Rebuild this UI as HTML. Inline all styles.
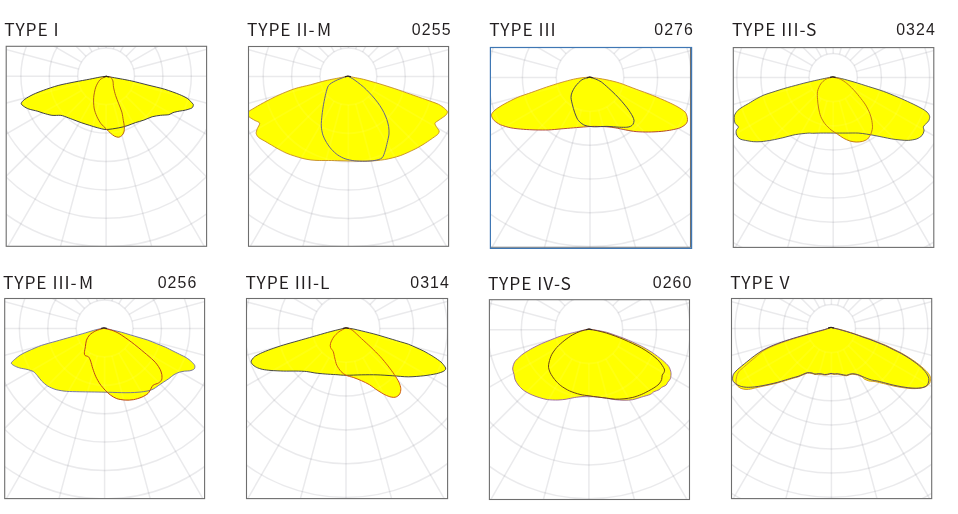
<!DOCTYPE html>
<html><head><meta charset="utf-8"><title>Light distribution types</title>
<style>
html,body{margin:0;padding:0;background:#fff;}
body{width:958px;height:514px;overflow:hidden;}
svg{display:block;will-change:transform;}
.t{font-family:"Noto Sans CJK SC","Liberation Sans",sans-serif;font-size:17.4px;fill:#231f20;letter-spacing:0.95px;}
.n{font-family:"Liberation Sans",sans-serif;font-size:15.9px;fill:#231f20;letter-spacing:1.1px;text-anchor:end;}
.g{fill:none;stroke:#80808a;stroke-width:1.5;stroke-opacity:0.165;}
</style></head><body>
<svg width="958" height="514" viewBox="0 0 958 514">
<rect width="958" height="514" fill="#fff"/>
<linearGradient id="g3" gradientUnits="userSpaceOnUse" x1="0" y1="78" x2="0" y2="132"><stop offset="0" stop-color="#c98a2c"/><stop offset="0.6" stop-color="#c47a2a"/><stop offset="1" stop-color="#a8322c"/></linearGradient>
<clipPath id="c0"><rect x="6.20" y="46.30" width="200.40" height="200.00"/></clipPath>
<g clip-path="url(#c0)">
<g class="g">
<circle cx="106.10" cy="76.30" r="28.40"/><circle cx="106.10" cy="76.30" r="56.80"/><circle cx="106.10" cy="76.30" r="85.20"/><circle cx="106.10" cy="76.30" r="113.60"/><circle cx="106.10" cy="76.30" r="142.00"/><circle cx="106.10" cy="76.30" r="170.40"/><circle cx="106.10" cy="76.30" r="198.80"/><circle cx="106.10" cy="76.30" r="227.20"/><circle cx="106.10" cy="76.30" r="255.60"/>
<path d="M134.50 76.30 L406.10 76.30M133.53 83.65 L395.88 153.95M130.70 90.50 L365.91 226.30M126.18 96.38 L318.23 288.43M120.30 100.90 L256.10 336.11M113.45 103.73 L183.75 366.08M106.10 104.70 L106.10 376.30M98.75 103.73 L28.45 366.08M91.90 100.90 L-43.90 336.11M86.02 96.38 L-106.03 288.43M81.50 90.50 L-153.71 226.30M78.67 83.65 L-183.68 153.95M77.70 76.30 L-193.90 76.30M78.67 68.95 L-183.68 -1.35M81.50 62.10 L-153.71 -73.70M86.02 56.22 L-106.03 -135.83M91.90 51.70 L-43.90 -183.51M98.75 48.87 L28.45 -213.48M106.10 47.90 L106.10 -223.70M113.45 48.87 L183.75 -213.48M120.30 51.70 L256.10 -183.51M126.18 56.22 L318.23 -135.83M130.70 62.10 L365.91 -73.70M133.53 68.95 L395.88 -1.35"/>
</g>
<clipPath id="s0"><path d="M106.21 76.28C108.96 76.77 111.05 77.10 114.56 77.75C118.07 78.39 126.58 79.85 131.26 80.88C135.94 81.90 143.29 83.88 147.96 85.05C152.64 86.22 160.28 87.91 164.66 89.23C169.05 90.54 176.06 93.13 179.28 94.45C182.49 95.76 185.73 97.31 187.63 98.62C189.53 99.94 192.06 102.88 192.85 103.84C193.64 104.81 193.41 104.93 193.27 105.51C193.12 106.10 192.89 107.37 191.80 108.02C190.72 108.66 187.29 109.67 185.54 110.10C183.79 110.54 181.03 110.80 179.28 111.15C177.52 111.50 174.48 112.11 173.01 112.61C171.55 113.11 170.59 114.32 168.84 114.70C167.09 115.08 162.83 115.03 160.49 115.32C158.15 115.62 154.48 116.11 152.14 116.78C149.80 117.46 146.13 119.31 143.79 120.13C141.45 120.94 137.77 121.84 135.44 122.63C133.10 123.42 129.42 125.03 127.09 125.76C124.75 126.49 121.66 127.32 118.73 127.85C115.81 128.38 109.13 129.52 106.21 129.52C103.29 129.52 100.20 128.43 97.86 127.85C95.52 127.27 91.85 126.08 89.51 125.34C87.17 124.61 83.49 123.45 81.16 122.63C78.82 121.81 75.14 120.38 72.81 119.50C70.47 118.62 66.21 116.95 64.46 116.37C62.70 115.78 62.03 115.47 60.28 115.32C58.53 115.18 54.27 115.62 51.93 115.32C49.59 115.03 45.62 113.82 43.58 113.24C41.53 112.65 39.36 111.73 37.32 111.15C35.27 110.56 30.86 109.73 28.96 109.06C27.06 108.39 24.83 107.14 23.75 106.35C22.66 105.56 21.09 104.42 21.24 103.42C21.39 102.43 23.12 100.51 24.79 99.25C26.46 97.99 30.51 95.70 33.14 94.45C35.77 93.19 40.07 91.53 43.58 90.27C47.09 89.01 53.81 86.64 58.19 85.47C62.58 84.30 70.51 82.80 74.89 81.92C79.28 81.04 86.00 79.88 89.51 79.21C93.01 78.53 97.61 77.53 99.95 77.12C102.28 76.71 104.14 76.56 106.21 76.28Z"/><path d="M106.21 76.28C104.14 77.46 101.41 78.31 99.95 79.83C98.48 81.35 96.65 84.66 95.77 87.14C94.89 89.62 93.92 94.66 93.68 97.58C93.45 100.50 93.66 105.39 94.10 108.02C94.54 110.65 95.85 114.18 96.81 116.37C97.78 118.56 99.67 121.92 100.99 123.67C102.30 125.43 104.89 127.58 106.21 128.89C107.52 130.21 109.22 132.05 110.38 133.07C111.55 134.09 113.39 135.62 114.56 136.20C115.73 136.78 117.71 137.33 118.73 137.24C119.76 137.16 121.14 136.30 121.87 135.57C122.60 134.84 123.60 133.25 123.95 132.03C124.30 130.80 124.46 128.41 124.37 126.81C124.28 125.20 123.68 122.59 123.33 120.54C122.98 118.50 122.51 114.53 121.87 112.19C121.22 109.85 119.61 106.18 118.73 103.84C117.86 101.50 116.33 97.83 115.60 95.49C114.87 93.15 113.90 89.19 113.52 87.14C113.14 85.09 113.33 82.28 112.89 80.88C112.45 79.47 111.32 77.76 110.38 77.12C109.45 76.48 107.59 76.56 106.21 76.28Z"/></clipPath>
<path d="M106.21 76.28C108.96 76.77 111.05 77.10 114.56 77.75C118.07 78.39 126.58 79.85 131.26 80.88C135.94 81.90 143.29 83.88 147.96 85.05C152.64 86.22 160.28 87.91 164.66 89.23C169.05 90.54 176.06 93.13 179.28 94.45C182.49 95.76 185.73 97.31 187.63 98.62C189.53 99.94 192.06 102.88 192.85 103.84C193.64 104.81 193.41 104.93 193.27 105.51C193.12 106.10 192.89 107.37 191.80 108.02C190.72 108.66 187.29 109.67 185.54 110.10C183.79 110.54 181.03 110.80 179.28 111.15C177.52 111.50 174.48 112.11 173.01 112.61C171.55 113.11 170.59 114.32 168.84 114.70C167.09 115.08 162.83 115.03 160.49 115.32C158.15 115.62 154.48 116.11 152.14 116.78C149.80 117.46 146.13 119.31 143.79 120.13C141.45 120.94 137.77 121.84 135.44 122.63C133.10 123.42 129.42 125.03 127.09 125.76C124.75 126.49 121.66 127.32 118.73 127.85C115.81 128.38 109.13 129.52 106.21 129.52C103.29 129.52 100.20 128.43 97.86 127.85C95.52 127.27 91.85 126.08 89.51 125.34C87.17 124.61 83.49 123.45 81.16 122.63C78.82 121.81 75.14 120.38 72.81 119.50C70.47 118.62 66.21 116.95 64.46 116.37C62.70 115.78 62.03 115.47 60.28 115.32C58.53 115.18 54.27 115.62 51.93 115.32C49.59 115.03 45.62 113.82 43.58 113.24C41.53 112.65 39.36 111.73 37.32 111.15C35.27 110.56 30.86 109.73 28.96 109.06C27.06 108.39 24.83 107.14 23.75 106.35C22.66 105.56 21.09 104.42 21.24 103.42C21.39 102.43 23.12 100.51 24.79 99.25C26.46 97.99 30.51 95.70 33.14 94.45C35.77 93.19 40.07 91.53 43.58 90.27C47.09 89.01 53.81 86.64 58.19 85.47C62.58 84.30 70.51 82.80 74.89 81.92C79.28 81.04 86.00 79.88 89.51 79.21C93.01 78.53 97.61 77.53 99.95 77.12C102.28 76.71 104.14 76.56 106.21 76.28Z" fill="#ffff00" stroke="none"/>
<path d="M106.21 76.28C104.14 77.46 101.41 78.31 99.95 79.83C98.48 81.35 96.65 84.66 95.77 87.14C94.89 89.62 93.92 94.66 93.68 97.58C93.45 100.50 93.66 105.39 94.10 108.02C94.54 110.65 95.85 114.18 96.81 116.37C97.78 118.56 99.67 121.92 100.99 123.67C102.30 125.43 104.89 127.58 106.21 128.89C107.52 130.21 109.22 132.05 110.38 133.07C111.55 134.09 113.39 135.62 114.56 136.20C115.73 136.78 117.71 137.33 118.73 137.24C119.76 137.16 121.14 136.30 121.87 135.57C122.60 134.84 123.60 133.25 123.95 132.03C124.30 130.80 124.46 128.41 124.37 126.81C124.28 125.20 123.68 122.59 123.33 120.54C122.98 118.50 122.51 114.53 121.87 112.19C121.22 109.85 119.61 106.18 118.73 103.84C117.86 101.50 116.33 97.83 115.60 95.49C114.87 93.15 113.90 89.19 113.52 87.14C113.14 85.09 113.33 82.28 112.89 80.88C112.45 79.47 111.32 77.76 110.38 77.12C109.45 76.48 107.59 76.56 106.21 76.28Z" fill="#ffff00" stroke="none"/>
<g clip-path="url(#s0)" fill="none" stroke="#ffffff" stroke-width="1.8" stroke-opacity="0.07"><circle cx="106.10" cy="76.30" r="28.40"/><circle cx="106.10" cy="76.30" r="56.80"/><circle cx="106.10" cy="76.30" r="85.20"/><circle cx="106.10" cy="76.30" r="113.60"/><circle cx="106.10" cy="76.30" r="142.00"/><path d="M134.50 76.30 L406.10 76.30M133.53 83.65 L395.88 153.95M130.70 90.50 L365.91 226.30M126.18 96.38 L318.23 288.43M120.30 100.90 L256.10 336.11M113.45 103.73 L183.75 366.08M106.10 104.70 L106.10 376.30M98.75 103.73 L28.45 366.08M91.90 100.90 L-43.90 336.11M86.02 96.38 L-106.03 288.43M81.50 90.50 L-153.71 226.30M78.67 83.65 L-183.68 153.95M77.70 76.30 L-193.90 76.30M78.67 68.95 L-183.68 -1.35M81.50 62.10 L-153.71 -73.70M86.02 56.22 L-106.03 -135.83M91.90 51.70 L-43.90 -183.51M98.75 48.87 L28.45 -213.48M106.10 47.90 L106.10 -223.70M113.45 48.87 L183.75 -213.48M120.30 51.70 L256.10 -183.51M126.18 56.22 L318.23 -135.83M130.70 62.10 L365.91 -73.70M133.53 68.95 L395.88 -1.35"/></g>
<path d="M106.21 76.28C108.96 76.77 111.05 77.10 114.56 77.75C118.07 78.39 126.58 79.85 131.26 80.88C135.94 81.90 143.29 83.88 147.96 85.05C152.64 86.22 160.28 87.91 164.66 89.23C169.05 90.54 176.06 93.13 179.28 94.45C182.49 95.76 185.73 97.31 187.63 98.62C189.53 99.94 192.06 102.88 192.85 103.84C193.64 104.81 193.41 104.93 193.27 105.51C193.12 106.10 192.89 107.37 191.80 108.02C190.72 108.66 187.29 109.67 185.54 110.10C183.79 110.54 181.03 110.80 179.28 111.15C177.52 111.50 174.48 112.11 173.01 112.61C171.55 113.11 170.59 114.32 168.84 114.70C167.09 115.08 162.83 115.03 160.49 115.32C158.15 115.62 154.48 116.11 152.14 116.78C149.80 117.46 146.13 119.31 143.79 120.13C141.45 120.94 137.77 121.84 135.44 122.63C133.10 123.42 129.42 125.03 127.09 125.76C124.75 126.49 121.66 127.32 118.73 127.85C115.81 128.38 109.13 129.52 106.21 129.52C103.29 129.52 100.20 128.43 97.86 127.85C95.52 127.27 91.85 126.08 89.51 125.34C87.17 124.61 83.49 123.45 81.16 122.63C78.82 121.81 75.14 120.38 72.81 119.50C70.47 118.62 66.21 116.95 64.46 116.37C62.70 115.78 62.03 115.47 60.28 115.32C58.53 115.18 54.27 115.62 51.93 115.32C49.59 115.03 45.62 113.82 43.58 113.24C41.53 112.65 39.36 111.73 37.32 111.15C35.27 110.56 30.86 109.73 28.96 109.06C27.06 108.39 24.83 107.14 23.75 106.35C22.66 105.56 21.09 104.42 21.24 103.42C21.39 102.43 23.12 100.51 24.79 99.25C26.46 97.99 30.51 95.70 33.14 94.45C35.77 93.19 40.07 91.53 43.58 90.27C47.09 89.01 53.81 86.64 58.19 85.47C62.58 84.30 70.51 82.80 74.89 81.92C79.28 81.04 86.00 79.88 89.51 79.21C93.01 78.53 97.61 77.53 99.95 77.12C102.28 76.71 104.14 76.56 106.21 76.28Z" fill="none" stroke="#2a2a3c" stroke-width="0.90" stroke-linejoin="round"/>
<path d="M106.21 76.28C104.14 77.46 101.41 78.31 99.95 79.83C98.48 81.35 96.65 84.66 95.77 87.14C94.89 89.62 93.92 94.66 93.68 97.58C93.45 100.50 93.66 105.39 94.10 108.02C94.54 110.65 95.85 114.18 96.81 116.37C97.78 118.56 99.67 121.92 100.99 123.67C102.30 125.43 104.89 127.58 106.21 128.89C107.52 130.21 109.22 132.05 110.38 133.07C111.55 134.09 113.39 135.62 114.56 136.20C115.73 136.78 117.71 137.33 118.73 137.24C119.76 137.16 121.14 136.30 121.87 135.57C122.60 134.84 123.60 133.25 123.95 132.03C124.30 130.80 124.46 128.41 124.37 126.81C124.28 125.20 123.68 122.59 123.33 120.54C122.98 118.50 122.51 114.53 121.87 112.19C121.22 109.85 119.61 106.18 118.73 103.84C117.86 101.50 116.33 97.83 115.60 95.49C114.87 93.15 113.90 89.19 113.52 87.14C113.14 85.09 113.33 82.28 112.89 80.88C112.45 79.47 111.32 77.76 110.38 77.12C109.45 76.48 107.59 76.56 106.21 76.28Z" fill="none" stroke="#b5601a" stroke-width="1.00" stroke-linejoin="round"/>
<path d="M103.81 76.78 Q106.21 75.78 108.61 76.78" fill="none" stroke="#2e2622" stroke-width="1.3" stroke-linecap="round"/>
</g>
<rect x="6.20" y="46.30" width="200.40" height="200.00" fill="none" stroke="#6e6e6e" stroke-width="1.1"/>
<text class="t" x="4.30" y="35.50">TYPE I</text>
<clipPath id="c1"><rect x="248.50" y="46.50" width="200.10" height="199.80"/></clipPath>
<g clip-path="url(#c1)">
<g class="g">
<circle cx="348.40" cy="76.50" r="28.40"/><circle cx="348.40" cy="76.50" r="56.80"/><circle cx="348.40" cy="76.50" r="85.20"/><circle cx="348.40" cy="76.50" r="113.60"/><circle cx="348.40" cy="76.50" r="142.00"/><circle cx="348.40" cy="76.50" r="170.40"/><circle cx="348.40" cy="76.50" r="198.80"/><circle cx="348.40" cy="76.50" r="227.20"/><circle cx="348.40" cy="76.50" r="255.60"/>
<path d="M376.80 76.50 L648.40 76.50M375.83 83.85 L638.18 154.15M373.00 90.70 L608.21 226.50M368.48 96.58 L560.53 288.63M362.60 101.10 L498.40 336.31M355.75 103.93 L426.05 366.28M348.40 104.90 L348.40 376.50M341.05 103.93 L270.75 366.28M334.20 101.10 L198.40 336.31M328.32 96.58 L136.27 288.63M323.80 90.70 L88.59 226.50M320.97 83.85 L58.62 154.15M320.00 76.50 L48.40 76.50M320.97 69.15 L58.62 -1.15M323.80 62.30 L88.59 -73.50M328.32 56.42 L136.27 -135.63M334.20 51.90 L198.40 -183.31M341.05 49.07 L270.75 -213.28M348.40 48.10 L348.40 -223.50M355.75 49.07 L426.05 -213.28M362.60 51.90 L498.40 -183.31M368.48 56.42 L560.53 -135.63M373.00 62.30 L608.21 -73.50M375.83 69.15 L638.18 -1.15"/>
</g>
<clipPath id="s1"><path d="M348.00 76.22C350.55 76.72 353.54 77.31 355.72 77.75C357.90 78.18 360.30 78.52 363.57 79.35C366.85 80.19 374.74 82.41 379.11 83.72C383.47 85.02 390.41 87.23 394.76 88.68C399.12 90.14 405.86 92.61 410.21 94.13C414.57 95.66 421.92 98.19 425.87 99.60C429.82 101.02 435.78 103.02 438.40 104.26C441.02 105.50 443.32 107.41 444.58 108.43C445.83 109.46 447.07 110.81 447.37 111.57C447.68 112.33 447.07 113.27 446.75 113.86C446.43 114.46 446.14 114.96 445.08 115.80C444.02 116.65 440.58 118.92 439.19 119.90C437.80 120.87 435.70 122.06 435.18 122.80C434.66 123.53 435.23 124.48 435.47 125.14C435.71 125.79 436.37 126.67 436.89 127.49C437.41 128.32 438.98 130.16 439.19 131.00C439.40 131.84 438.72 132.91 438.40 133.49C438.08 134.06 437.92 134.29 436.89 135.09C435.87 135.89 432.88 137.97 431.09 139.21C429.30 140.44 426.05 142.67 424.10 143.90C422.14 145.13 419.23 146.86 417.10 148.00C414.97 149.13 411.19 150.95 408.90 152.00C406.60 153.05 403.01 154.67 400.71 155.49C398.42 156.31 394.79 157.32 392.51 157.89C390.23 158.47 386.69 159.22 384.41 159.60C382.12 159.99 378.48 160.42 376.18 160.63C373.89 160.83 370.79 160.99 368.04 161.04C365.29 161.10 359.92 161.07 356.56 161.04C353.20 161.01 347.54 160.91 344.03 160.84C340.53 160.76 334.99 160.57 331.51 160.52C328.03 160.48 322.05 160.57 319.19 160.50C316.33 160.43 313.37 160.28 311.09 160.00C308.81 159.72 305.20 159.04 302.91 158.50C300.61 157.95 297.00 156.84 294.70 156.10C292.40 155.35 288.78 154.17 286.50 153.19C284.21 152.22 280.51 150.25 278.40 149.10C276.28 147.96 273.36 146.16 271.40 145.01C269.44 143.86 266.22 141.96 264.41 140.90C262.60 139.83 259.65 138.44 258.50 137.39C257.35 136.34 256.37 134.62 256.20 133.40C256.04 132.19 256.80 130.15 257.29 128.71C257.78 127.26 260.01 124.24 259.69 123.09C259.37 121.94 256.46 121.35 254.99 120.50C253.52 119.65 250.17 117.81 249.19 116.99C248.21 116.18 248.17 115.39 248.00 114.70C247.83 114.00 247.35 112.85 248.00 112.05C248.65 111.24 250.50 110.24 252.68 108.94C254.86 107.63 259.87 104.68 263.57 102.71C267.27 100.75 274.74 96.89 279.11 94.93C283.47 92.96 290.40 90.10 294.76 88.68C299.13 87.27 305.94 85.94 310.30 84.80C314.65 83.67 321.51 81.61 325.87 80.58C330.23 79.56 338.37 78.08 341.47 77.47C344.56 76.86 345.84 76.63 348.00 76.22Z"/><path d="M348.00 76.22C346.83 76.52 346.23 76.47 344.45 77.12C342.67 77.77 337.49 79.71 335.27 80.88C333.04 82.05 329.90 83.72 328.58 85.47C327.27 87.22 326.57 90.77 325.87 93.40C325.17 96.03 324.11 101.22 323.57 104.26C323.03 107.30 322.33 112.08 322.01 115.11C321.69 118.15 321.15 123.16 321.28 125.97C321.41 128.78 322.22 132.85 322.95 135.16C323.68 137.47 325.30 140.48 326.50 142.46C327.70 144.45 329.93 147.60 331.51 149.35C333.09 151.11 335.87 153.67 337.77 154.99C339.67 156.30 342.74 157.93 345.08 158.75C347.42 159.57 351.70 160.48 354.47 160.84C357.25 161.19 362.05 161.31 364.91 161.25C367.77 161.19 372.53 160.89 374.93 160.42C377.33 159.95 380.60 159.26 382.03 157.91C383.46 156.57 384.43 152.98 385.16 150.81C385.89 148.65 386.71 144.82 387.25 142.46C387.79 140.11 388.81 136.24 389.00 134.01C389.19 131.77 388.91 128.52 388.61 126.49C388.30 124.46 387.49 121.46 386.83 119.50C386.17 117.54 384.89 114.46 383.91 112.51C382.93 110.55 381.08 107.39 379.84 105.51C378.59 103.64 376.51 100.90 375.04 99.10C373.56 97.31 370.93 94.41 369.29 92.69C367.66 90.97 365.00 88.28 363.34 86.81C361.69 85.34 358.97 83.31 357.50 82.19C356.02 81.07 354.13 79.63 352.80 78.79C351.47 77.95 349.58 77.07 348.00 76.22Z"/></clipPath>
<path d="M348.00 76.22C350.55 76.72 353.54 77.31 355.72 77.75C357.90 78.18 360.30 78.52 363.57 79.35C366.85 80.19 374.74 82.41 379.11 83.72C383.47 85.02 390.41 87.23 394.76 88.68C399.12 90.14 405.86 92.61 410.21 94.13C414.57 95.66 421.92 98.19 425.87 99.60C429.82 101.02 435.78 103.02 438.40 104.26C441.02 105.50 443.32 107.41 444.58 108.43C445.83 109.46 447.07 110.81 447.37 111.57C447.68 112.33 447.07 113.27 446.75 113.86C446.43 114.46 446.14 114.96 445.08 115.80C444.02 116.65 440.58 118.92 439.19 119.90C437.80 120.87 435.70 122.06 435.18 122.80C434.66 123.53 435.23 124.48 435.47 125.14C435.71 125.79 436.37 126.67 436.89 127.49C437.41 128.32 438.98 130.16 439.19 131.00C439.40 131.84 438.72 132.91 438.40 133.49C438.08 134.06 437.92 134.29 436.89 135.09C435.87 135.89 432.88 137.97 431.09 139.21C429.30 140.44 426.05 142.67 424.10 143.90C422.14 145.13 419.23 146.86 417.10 148.00C414.97 149.13 411.19 150.95 408.90 152.00C406.60 153.05 403.01 154.67 400.71 155.49C398.42 156.31 394.79 157.32 392.51 157.89C390.23 158.47 386.69 159.22 384.41 159.60C382.12 159.99 378.48 160.42 376.18 160.63C373.89 160.83 370.79 160.99 368.04 161.04C365.29 161.10 359.92 161.07 356.56 161.04C353.20 161.01 347.54 160.91 344.03 160.84C340.53 160.76 334.99 160.57 331.51 160.52C328.03 160.48 322.05 160.57 319.19 160.50C316.33 160.43 313.37 160.28 311.09 160.00C308.81 159.72 305.20 159.04 302.91 158.50C300.61 157.95 297.00 156.84 294.70 156.10C292.40 155.35 288.78 154.17 286.50 153.19C284.21 152.22 280.51 150.25 278.40 149.10C276.28 147.96 273.36 146.16 271.40 145.01C269.44 143.86 266.22 141.96 264.41 140.90C262.60 139.83 259.65 138.44 258.50 137.39C257.35 136.34 256.37 134.62 256.20 133.40C256.04 132.19 256.80 130.15 257.29 128.71C257.78 127.26 260.01 124.24 259.69 123.09C259.37 121.94 256.46 121.35 254.99 120.50C253.52 119.65 250.17 117.81 249.19 116.99C248.21 116.18 248.17 115.39 248.00 114.70C247.83 114.00 247.35 112.85 248.00 112.05C248.65 111.24 250.50 110.24 252.68 108.94C254.86 107.63 259.87 104.68 263.57 102.71C267.27 100.75 274.74 96.89 279.11 94.93C283.47 92.96 290.40 90.10 294.76 88.68C299.13 87.27 305.94 85.94 310.30 84.80C314.65 83.67 321.51 81.61 325.87 80.58C330.23 79.56 338.37 78.08 341.47 77.47C344.56 76.86 345.84 76.63 348.00 76.22Z" fill="#ffff00" stroke="none"/>
<path d="M348.00 76.22C346.83 76.52 346.23 76.47 344.45 77.12C342.67 77.77 337.49 79.71 335.27 80.88C333.04 82.05 329.90 83.72 328.58 85.47C327.27 87.22 326.57 90.77 325.87 93.40C325.17 96.03 324.11 101.22 323.57 104.26C323.03 107.30 322.33 112.08 322.01 115.11C321.69 118.15 321.15 123.16 321.28 125.97C321.41 128.78 322.22 132.85 322.95 135.16C323.68 137.47 325.30 140.48 326.50 142.46C327.70 144.45 329.93 147.60 331.51 149.35C333.09 151.11 335.87 153.67 337.77 154.99C339.67 156.30 342.74 157.93 345.08 158.75C347.42 159.57 351.70 160.48 354.47 160.84C357.25 161.19 362.05 161.31 364.91 161.25C367.77 161.19 372.53 160.89 374.93 160.42C377.33 159.95 380.60 159.26 382.03 157.91C383.46 156.57 384.43 152.98 385.16 150.81C385.89 148.65 386.71 144.82 387.25 142.46C387.79 140.11 388.81 136.24 389.00 134.01C389.19 131.77 388.91 128.52 388.61 126.49C388.30 124.46 387.49 121.46 386.83 119.50C386.17 117.54 384.89 114.46 383.91 112.51C382.93 110.55 381.08 107.39 379.84 105.51C378.59 103.64 376.51 100.90 375.04 99.10C373.56 97.31 370.93 94.41 369.29 92.69C367.66 90.97 365.00 88.28 363.34 86.81C361.69 85.34 358.97 83.31 357.50 82.19C356.02 81.07 354.13 79.63 352.80 78.79C351.47 77.95 349.58 77.07 348.00 76.22Z" fill="#ffff00" stroke="none"/>
<g clip-path="url(#s1)" fill="none" stroke="#ffffff" stroke-width="1.8" stroke-opacity="0.07"><circle cx="348.40" cy="76.50" r="28.40"/><circle cx="348.40" cy="76.50" r="56.80"/><circle cx="348.40" cy="76.50" r="85.20"/><circle cx="348.40" cy="76.50" r="113.60"/><circle cx="348.40" cy="76.50" r="142.00"/><path d="M376.80 76.50 L648.40 76.50M375.83 83.85 L638.18 154.15M373.00 90.70 L608.21 226.50M368.48 96.58 L560.53 288.63M362.60 101.10 L498.40 336.31M355.75 103.93 L426.05 366.28M348.40 104.90 L348.40 376.50M341.05 103.93 L270.75 366.28M334.20 101.10 L198.40 336.31M328.32 96.58 L136.27 288.63M323.80 90.70 L88.59 226.50M320.97 83.85 L58.62 154.15M320.00 76.50 L48.40 76.50M320.97 69.15 L58.62 -1.15M323.80 62.30 L88.59 -73.50M328.32 56.42 L136.27 -135.63M334.20 51.90 L198.40 -183.31M341.05 49.07 L270.75 -213.28M348.40 48.10 L348.40 -223.50M355.75 49.07 L426.05 -213.28M362.60 51.90 L498.40 -183.31M368.48 56.42 L560.53 -135.63M373.00 62.30 L608.21 -73.50M375.83 69.15 L638.18 -1.15"/></g>
<path d="M348.00 76.22C350.55 76.72 353.54 77.31 355.72 77.75C357.90 78.18 360.30 78.52 363.57 79.35C366.85 80.19 374.74 82.41 379.11 83.72C383.47 85.02 390.41 87.23 394.76 88.68C399.12 90.14 405.86 92.61 410.21 94.13C414.57 95.66 421.92 98.19 425.87 99.60C429.82 101.02 435.78 103.02 438.40 104.26C441.02 105.50 443.32 107.41 444.58 108.43C445.83 109.46 447.07 110.81 447.37 111.57C447.68 112.33 447.07 113.27 446.75 113.86C446.43 114.46 446.14 114.96 445.08 115.80C444.02 116.65 440.58 118.92 439.19 119.90C437.80 120.87 435.70 122.06 435.18 122.80C434.66 123.53 435.23 124.48 435.47 125.14C435.71 125.79 436.37 126.67 436.89 127.49C437.41 128.32 438.98 130.16 439.19 131.00C439.40 131.84 438.72 132.91 438.40 133.49C438.08 134.06 437.92 134.29 436.89 135.09C435.87 135.89 432.88 137.97 431.09 139.21C429.30 140.44 426.05 142.67 424.10 143.90C422.14 145.13 419.23 146.86 417.10 148.00C414.97 149.13 411.19 150.95 408.90 152.00C406.60 153.05 403.01 154.67 400.71 155.49C398.42 156.31 394.79 157.32 392.51 157.89C390.23 158.47 386.69 159.22 384.41 159.60C382.12 159.99 378.48 160.42 376.18 160.63C373.89 160.83 370.79 160.99 368.04 161.04C365.29 161.10 359.92 161.07 356.56 161.04C353.20 161.01 347.54 160.91 344.03 160.84C340.53 160.76 334.99 160.57 331.51 160.52C328.03 160.48 322.05 160.57 319.19 160.50C316.33 160.43 313.37 160.28 311.09 160.00C308.81 159.72 305.20 159.04 302.91 158.50C300.61 157.95 297.00 156.84 294.70 156.10C292.40 155.35 288.78 154.17 286.50 153.19C284.21 152.22 280.51 150.25 278.40 149.10C276.28 147.96 273.36 146.16 271.40 145.01C269.44 143.86 266.22 141.96 264.41 140.90C262.60 139.83 259.65 138.44 258.50 137.39C257.35 136.34 256.37 134.62 256.20 133.40C256.04 132.19 256.80 130.15 257.29 128.71C257.78 127.26 260.01 124.24 259.69 123.09C259.37 121.94 256.46 121.35 254.99 120.50C253.52 119.65 250.17 117.81 249.19 116.99C248.21 116.18 248.17 115.39 248.00 114.70C247.83 114.00 247.35 112.85 248.00 112.05C248.65 111.24 250.50 110.24 252.68 108.94C254.86 107.63 259.87 104.68 263.57 102.71C267.27 100.75 274.74 96.89 279.11 94.93C283.47 92.96 290.40 90.10 294.76 88.68C299.13 87.27 305.94 85.94 310.30 84.80C314.65 83.67 321.51 81.61 325.87 80.58C330.23 79.56 338.37 78.08 341.47 77.47C344.56 76.86 345.84 76.63 348.00 76.22Z" fill="none" stroke="#c48a22" stroke-width="0.90" stroke-linejoin="round"/>
<path d="M348.00 76.22C346.83 76.52 346.23 76.47 344.45 77.12C342.67 77.77 337.49 79.71 335.27 80.88C333.04 82.05 329.90 83.72 328.58 85.47C327.27 87.22 326.57 90.77 325.87 93.40C325.17 96.03 324.11 101.22 323.57 104.26C323.03 107.30 322.33 112.08 322.01 115.11C321.69 118.15 321.15 123.16 321.28 125.97C321.41 128.78 322.22 132.85 322.95 135.16C323.68 137.47 325.30 140.48 326.50 142.46C327.70 144.45 329.93 147.60 331.51 149.35C333.09 151.11 335.87 153.67 337.77 154.99C339.67 156.30 342.74 157.93 345.08 158.75C347.42 159.57 351.70 160.48 354.47 160.84C357.25 161.19 362.05 161.31 364.91 161.25C367.77 161.19 372.53 160.89 374.93 160.42C377.33 159.95 380.60 159.26 382.03 157.91C383.46 156.57 384.43 152.98 385.16 150.81C385.89 148.65 386.71 144.82 387.25 142.46C387.79 140.11 388.81 136.24 389.00 134.01C389.19 131.77 388.91 128.52 388.61 126.49C388.30 124.46 387.49 121.46 386.83 119.50C386.17 117.54 384.89 114.46 383.91 112.51C382.93 110.55 381.08 107.39 379.84 105.51C378.59 103.64 376.51 100.90 375.04 99.10C373.56 97.31 370.93 94.41 369.29 92.69C367.66 90.97 365.00 88.28 363.34 86.81C361.69 85.34 358.97 83.31 357.50 82.19C356.02 81.07 354.13 79.63 352.80 78.79C351.47 77.95 349.58 77.07 348.00 76.22Z" fill="none" stroke="#66628a" stroke-width="1.00" stroke-linejoin="round"/>
<path d="M345.60 76.72 Q348.00 75.72 350.40 76.72" fill="none" stroke="#2e2622" stroke-width="1.3" stroke-linecap="round"/>
</g>
<rect x="248.50" y="46.50" width="200.10" height="199.80" fill="none" stroke="#6e6e6e" stroke-width="1.1"/>
<text class="t" x="247.10" y="35.50">TYPE II-<tspan dx="1.5">M</tspan></text>
<text class="n" x="451.60" y="34.70">0255</text>
<clipPath id="c2"><rect x="490.50" y="47.60" width="200.50" height="200.40"/></clipPath>
<g clip-path="url(#c2)">
<g class="g">
<circle cx="590.00" cy="77.60" r="33.80"/><circle cx="590.00" cy="77.60" r="67.60"/><circle cx="590.00" cy="77.60" r="101.40"/><circle cx="590.00" cy="77.60" r="135.20"/><circle cx="590.00" cy="77.60" r="169.00"/><circle cx="590.00" cy="77.60" r="202.80"/><circle cx="590.00" cy="77.60" r="236.60"/>
<path d="M623.80 77.60 L890.00 77.60M622.65 86.35 L879.78 155.25M619.27 94.50 L849.81 227.60M613.90 101.50 L802.13 289.73M606.90 106.87 L740.00 337.41M598.75 110.25 L667.65 367.38M590.00 111.40 L590.00 377.60M581.25 110.25 L512.35 367.38M573.10 106.87 L440.00 337.41M566.10 101.50 L377.87 289.73M560.73 94.50 L330.19 227.60M557.35 86.35 L300.22 155.25M556.20 77.60 L290.00 77.60M557.35 68.85 L300.22 -0.05M560.73 60.70 L330.19 -72.40M566.10 53.70 L377.87 -134.53M573.10 48.33 L440.00 -182.21M581.25 44.95 L512.35 -212.18M590.00 43.80 L590.00 -222.40M598.75 44.95 L667.65 -212.18M606.90 48.33 L740.00 -182.21M613.90 53.70 L802.13 -134.53M619.27 60.70 L849.81 -72.40M622.65 68.85 L879.78 -0.05"/>
</g>
<clipPath id="s2"><path d="M589.79 77.12C592.68 77.53 596.16 77.99 598.56 78.37C600.96 78.75 603.99 79.19 606.91 79.83C609.83 80.48 615.34 81.65 619.44 82.96C623.53 84.28 631.46 87.47 636.14 89.23C640.81 90.98 648.46 93.74 652.84 95.49C657.22 97.24 663.95 100.15 667.45 101.75C670.96 103.36 675.41 105.51 677.89 106.97C680.38 108.43 683.88 110.73 685.20 112.19C686.51 113.65 686.99 116.10 687.29 117.41C687.58 118.73 687.58 120.56 687.29 121.59C686.99 122.61 686.22 123.84 685.20 124.72C684.18 125.59 681.88 127.12 679.98 127.85C678.08 128.58 674.26 129.44 671.63 129.94C669.00 130.43 664.41 131.11 661.19 131.40C657.97 131.69 652.17 132.00 648.66 132.03C645.16 132.05 639.35 131.90 636.14 131.61C632.92 131.32 628.62 130.46 625.70 129.94C622.78 129.41 617.89 128.29 615.26 127.85C612.63 127.41 609.83 127.01 606.91 126.81C603.99 126.60 597.31 126.39 594.38 126.39C591.46 126.39 588.96 126.60 586.03 126.81C583.11 127.01 577.01 127.56 573.51 127.85C570.00 128.14 564.49 128.60 560.98 128.89C557.47 129.19 551.96 129.79 548.46 129.94C544.95 130.08 539.44 130.03 535.93 129.94C532.42 129.85 526.91 129.60 523.40 129.31C519.90 129.02 514.09 128.49 510.88 127.85C507.66 127.21 502.78 125.74 500.44 124.72C498.10 123.70 495.40 121.71 494.18 120.54C492.95 119.37 491.96 117.39 491.67 116.37C491.38 115.34 491.44 114.26 492.09 113.24C492.73 112.21 494.51 110.38 496.26 109.06C498.02 107.75 501.69 105.45 504.61 103.84C507.54 102.23 513.34 99.19 517.14 97.58C520.94 95.97 527.66 93.82 531.75 92.36C535.85 90.90 542.28 88.51 546.37 87.14C550.46 85.77 557.18 83.66 560.98 82.55C564.78 81.44 570.58 79.88 573.51 79.21C576.43 78.53 579.58 78.04 581.86 77.75C584.14 77.45 587.17 77.33 589.79 77.12Z"/><path d="M589.79 77.12C587.17 78.01 583.85 78.58 581.86 79.83C579.87 81.09 576.97 84.34 575.59 86.10C574.22 87.85 572.69 90.75 572.05 92.36C571.40 93.97 570.94 95.82 571.00 97.58C571.06 99.33 571.97 102.84 572.46 104.89C572.96 106.93 573.82 110.15 574.55 112.19C575.28 114.24 576.66 117.89 577.68 119.50C578.71 121.11 580.69 122.80 581.86 123.67C583.03 124.55 584.28 125.32 586.03 125.76C587.79 126.20 591.46 126.72 594.38 126.81C597.31 126.89 603.40 126.33 606.91 126.39C610.42 126.45 616.66 127.11 619.44 127.22C622.21 127.34 625.19 127.34 626.74 127.22C628.29 127.11 629.62 126.80 630.50 126.39C631.38 125.98 632.51 125.12 633.01 124.30C633.50 123.48 634.14 121.71 634.05 120.54C633.96 119.37 633.23 117.56 632.38 115.95C631.53 114.34 629.49 111.11 628.00 109.06C626.51 107.01 623.52 103.38 621.73 101.34C619.95 99.29 617.13 96.32 615.26 94.45C613.39 92.58 610.33 89.73 608.37 87.97C606.41 86.22 603.09 83.18 601.27 81.92C599.46 80.66 597.04 79.67 595.43 79.00C593.82 78.33 591.65 77.74 589.79 77.12Z"/></clipPath>
<path d="M589.79 77.12C592.68 77.53 596.16 77.99 598.56 78.37C600.96 78.75 603.99 79.19 606.91 79.83C609.83 80.48 615.34 81.65 619.44 82.96C623.53 84.28 631.46 87.47 636.14 89.23C640.81 90.98 648.46 93.74 652.84 95.49C657.22 97.24 663.95 100.15 667.45 101.75C670.96 103.36 675.41 105.51 677.89 106.97C680.38 108.43 683.88 110.73 685.20 112.19C686.51 113.65 686.99 116.10 687.29 117.41C687.58 118.73 687.58 120.56 687.29 121.59C686.99 122.61 686.22 123.84 685.20 124.72C684.18 125.59 681.88 127.12 679.98 127.85C678.08 128.58 674.26 129.44 671.63 129.94C669.00 130.43 664.41 131.11 661.19 131.40C657.97 131.69 652.17 132.00 648.66 132.03C645.16 132.05 639.35 131.90 636.14 131.61C632.92 131.32 628.62 130.46 625.70 129.94C622.78 129.41 617.89 128.29 615.26 127.85C612.63 127.41 609.83 127.01 606.91 126.81C603.99 126.60 597.31 126.39 594.38 126.39C591.46 126.39 588.96 126.60 586.03 126.81C583.11 127.01 577.01 127.56 573.51 127.85C570.00 128.14 564.49 128.60 560.98 128.89C557.47 129.19 551.96 129.79 548.46 129.94C544.95 130.08 539.44 130.03 535.93 129.94C532.42 129.85 526.91 129.60 523.40 129.31C519.90 129.02 514.09 128.49 510.88 127.85C507.66 127.21 502.78 125.74 500.44 124.72C498.10 123.70 495.40 121.71 494.18 120.54C492.95 119.37 491.96 117.39 491.67 116.37C491.38 115.34 491.44 114.26 492.09 113.24C492.73 112.21 494.51 110.38 496.26 109.06C498.02 107.75 501.69 105.45 504.61 103.84C507.54 102.23 513.34 99.19 517.14 97.58C520.94 95.97 527.66 93.82 531.75 92.36C535.85 90.90 542.28 88.51 546.37 87.14C550.46 85.77 557.18 83.66 560.98 82.55C564.78 81.44 570.58 79.88 573.51 79.21C576.43 78.53 579.58 78.04 581.86 77.75C584.14 77.45 587.17 77.33 589.79 77.12Z" fill="#ffff00" stroke="none"/>
<path d="M589.79 77.12C587.17 78.01 583.85 78.58 581.86 79.83C579.87 81.09 576.97 84.34 575.59 86.10C574.22 87.85 572.69 90.75 572.05 92.36C571.40 93.97 570.94 95.82 571.00 97.58C571.06 99.33 571.97 102.84 572.46 104.89C572.96 106.93 573.82 110.15 574.55 112.19C575.28 114.24 576.66 117.89 577.68 119.50C578.71 121.11 580.69 122.80 581.86 123.67C583.03 124.55 584.28 125.32 586.03 125.76C587.79 126.20 591.46 126.72 594.38 126.81C597.31 126.89 603.40 126.33 606.91 126.39C610.42 126.45 616.66 127.11 619.44 127.22C622.21 127.34 625.19 127.34 626.74 127.22C628.29 127.11 629.62 126.80 630.50 126.39C631.38 125.98 632.51 125.12 633.01 124.30C633.50 123.48 634.14 121.71 634.05 120.54C633.96 119.37 633.23 117.56 632.38 115.95C631.53 114.34 629.49 111.11 628.00 109.06C626.51 107.01 623.52 103.38 621.73 101.34C619.95 99.29 617.13 96.32 615.26 94.45C613.39 92.58 610.33 89.73 608.37 87.97C606.41 86.22 603.09 83.18 601.27 81.92C599.46 80.66 597.04 79.67 595.43 79.00C593.82 78.33 591.65 77.74 589.79 77.12Z" fill="#ffff00" stroke="none"/>
<g clip-path="url(#s2)" fill="none" stroke="#ffffff" stroke-width="1.8" stroke-opacity="0.07"><circle cx="590.00" cy="77.60" r="33.80"/><circle cx="590.00" cy="77.60" r="67.60"/><circle cx="590.00" cy="77.60" r="101.40"/><circle cx="590.00" cy="77.60" r="135.20"/><path d="M623.80 77.60 L890.00 77.60M622.65 86.35 L879.78 155.25M619.27 94.50 L849.81 227.60M613.90 101.50 L802.13 289.73M606.90 106.87 L740.00 337.41M598.75 110.25 L667.65 367.38M590.00 111.40 L590.00 377.60M581.25 110.25 L512.35 367.38M573.10 106.87 L440.00 337.41M566.10 101.50 L377.87 289.73M560.73 94.50 L330.19 227.60M557.35 86.35 L300.22 155.25M556.20 77.60 L290.00 77.60M557.35 68.85 L300.22 -0.05M560.73 60.70 L330.19 -72.40M566.10 53.70 L377.87 -134.53M573.10 48.33 L440.00 -182.21M581.25 44.95 L512.35 -212.18M590.00 43.80 L590.00 -222.40M598.75 44.95 L667.65 -212.18M606.90 48.33 L740.00 -182.21M613.90 53.70 L802.13 -134.53M619.27 60.70 L849.81 -72.40M622.65 68.85 L879.78 -0.05"/></g>
<path d="M589.79 77.12C592.68 77.53 596.16 77.99 598.56 78.37C600.96 78.75 603.99 79.19 606.91 79.83C609.83 80.48 615.34 81.65 619.44 82.96C623.53 84.28 631.46 87.47 636.14 89.23C640.81 90.98 648.46 93.74 652.84 95.49C657.22 97.24 663.95 100.15 667.45 101.75C670.96 103.36 675.41 105.51 677.89 106.97C680.38 108.43 683.88 110.73 685.20 112.19C686.51 113.65 686.99 116.10 687.29 117.41C687.58 118.73 687.58 120.56 687.29 121.59C686.99 122.61 686.22 123.84 685.20 124.72C684.18 125.59 681.88 127.12 679.98 127.85C678.08 128.58 674.26 129.44 671.63 129.94C669.00 130.43 664.41 131.11 661.19 131.40C657.97 131.69 652.17 132.00 648.66 132.03C645.16 132.05 639.35 131.90 636.14 131.61C632.92 131.32 628.62 130.46 625.70 129.94C622.78 129.41 617.89 128.29 615.26 127.85C612.63 127.41 609.83 127.01 606.91 126.81C603.99 126.60 597.31 126.39 594.38 126.39C591.46 126.39 588.96 126.60 586.03 126.81C583.11 127.01 577.01 127.56 573.51 127.85C570.00 128.14 564.49 128.60 560.98 128.89C557.47 129.19 551.96 129.79 548.46 129.94C544.95 130.08 539.44 130.03 535.93 129.94C532.42 129.85 526.91 129.60 523.40 129.31C519.90 129.02 514.09 128.49 510.88 127.85C507.66 127.21 502.78 125.74 500.44 124.72C498.10 123.70 495.40 121.71 494.18 120.54C492.95 119.37 491.96 117.39 491.67 116.37C491.38 115.34 491.44 114.26 492.09 113.24C492.73 112.21 494.51 110.38 496.26 109.06C498.02 107.75 501.69 105.45 504.61 103.84C507.54 102.23 513.34 99.19 517.14 97.58C520.94 95.97 527.66 93.82 531.75 92.36C535.85 90.90 542.28 88.51 546.37 87.14C550.46 85.77 557.18 83.66 560.98 82.55C564.78 81.44 570.58 79.88 573.51 79.21C576.43 78.53 579.58 78.04 581.86 77.75C584.14 77.45 587.17 77.33 589.79 77.12Z" fill="none" stroke="url(#g3)" stroke-width="0.90" stroke-linejoin="round"/>
<path d="M589.79 77.12C587.17 78.01 583.85 78.58 581.86 79.83C579.87 81.09 576.97 84.34 575.59 86.10C574.22 87.85 572.69 90.75 572.05 92.36C571.40 93.97 570.94 95.82 571.00 97.58C571.06 99.33 571.97 102.84 572.46 104.89C572.96 106.93 573.82 110.15 574.55 112.19C575.28 114.24 576.66 117.89 577.68 119.50C578.71 121.11 580.69 122.80 581.86 123.67C583.03 124.55 584.28 125.32 586.03 125.76C587.79 126.20 591.46 126.72 594.38 126.81C597.31 126.89 603.40 126.33 606.91 126.39C610.42 126.45 616.66 127.11 619.44 127.22C622.21 127.34 625.19 127.34 626.74 127.22C628.29 127.11 629.62 126.80 630.50 126.39C631.38 125.98 632.51 125.12 633.01 124.30C633.50 123.48 634.14 121.71 634.05 120.54C633.96 119.37 633.23 117.56 632.38 115.95C631.53 114.34 629.49 111.11 628.00 109.06C626.51 107.01 623.52 103.38 621.73 101.34C619.95 99.29 617.13 96.32 615.26 94.45C613.39 92.58 610.33 89.73 608.37 87.97C606.41 86.22 603.09 83.18 601.27 81.92C599.46 80.66 597.04 79.67 595.43 79.00C593.82 78.33 591.65 77.74 589.79 77.12Z" fill="none" stroke="#4a4458" stroke-width="1.00" stroke-linejoin="round"/>
<path d="M587.39 77.62 Q589.79 76.62 592.19 77.62" fill="none" stroke="#2e2622" stroke-width="1.3" stroke-linecap="round"/>
</g>
<path d="M690.50 47.60 V247.30 H490.50" fill="none" stroke="#727272" stroke-width="1.1"/>
<rect x="490.40" y="47.50" width="201.20" height="200.90" fill="none" stroke="#3f77b4" stroke-width="1.2"/>
<text class="t" x="489.20" y="35.50">TYPE III</text>
<text class="n" x="694.00" y="34.70">0276</text>
<clipPath id="c3"><rect x="733.30" y="47.60" width="200.50" height="199.80"/></clipPath>
<g clip-path="url(#c3)">
<g class="g">
<circle cx="833.20" cy="77.60" r="24.10"/><circle cx="833.20" cy="77.60" r="48.20"/><circle cx="833.20" cy="77.60" r="72.30"/><circle cx="833.20" cy="77.60" r="96.40"/><circle cx="833.20" cy="77.60" r="120.50"/><circle cx="833.20" cy="77.60" r="144.60"/><circle cx="833.20" cy="77.60" r="168.70"/><circle cx="833.20" cy="77.60" r="192.80"/><circle cx="833.20" cy="77.60" r="216.90"/><circle cx="833.20" cy="77.60" r="241.00"/>
<path d="M857.30 77.60 L1133.20 77.60M856.48 83.84 L1122.98 155.25M854.07 89.65 L1093.01 227.60M850.24 94.64 L1045.33 289.73M845.25 98.47 L983.20 337.41M839.44 100.88 L910.85 367.38M833.20 101.70 L833.20 377.60M826.96 100.88 L755.55 367.38M821.15 98.47 L683.20 337.41M816.16 94.64 L621.07 289.73M812.33 89.65 L573.39 227.60M809.92 83.84 L543.42 155.25M809.10 77.60 L533.20 77.60M809.92 71.36 L543.42 -0.05M812.33 65.55 L573.39 -72.40M816.16 60.56 L621.07 -134.53M821.15 56.73 L683.20 -182.21M826.96 54.32 L755.55 -212.18M833.20 53.50 L833.20 -222.40M839.44 54.32 L910.85 -212.18M845.25 56.73 L983.20 -182.21M850.24 60.56 L1045.33 -134.53M854.07 65.55 L1093.01 -72.40M856.48 71.36 L1122.98 -0.05"/>
</g>
<clipPath id="s3"><path d="M832.79 76.81C835.68 77.39 838.58 77.85 841.56 78.58C844.54 79.31 850.29 80.90 854.09 82.03C857.89 83.15 864.61 85.32 868.70 86.62C872.79 87.92 879.22 89.84 883.31 91.32C887.41 92.79 894.13 95.55 897.93 97.16C901.73 98.77 907.24 101.28 910.45 102.80C913.67 104.32 918.55 106.70 920.89 108.02C923.23 109.33 925.93 111.02 927.15 112.19C928.38 113.36 929.43 115.20 929.66 116.37C929.89 117.54 929.32 119.52 928.82 120.54C928.33 121.57 926.87 122.80 926.11 123.67C925.35 124.55 923.69 125.78 923.40 126.81C923.10 127.83 924.23 129.75 924.02 130.98C923.82 132.21 922.96 134.46 921.94 135.57C920.91 136.68 918.62 138.24 916.72 138.91C914.82 139.59 910.70 140.23 908.37 140.38C906.03 140.52 902.35 140.16 900.01 139.96C897.68 139.75 894.00 139.29 891.66 138.91C889.33 138.53 885.65 137.71 883.31 137.24C880.97 136.78 877.30 136.01 874.96 135.57C872.62 135.14 868.95 134.46 866.61 134.11C864.27 133.76 861.18 133.22 858.26 133.07C855.34 132.92 849.24 133.07 845.73 133.07C842.23 133.07 836.72 133.07 833.21 133.07C829.70 133.07 823.61 133.04 820.68 133.07C817.76 133.10 814.14 133.26 812.33 133.28C810.52 133.29 810.12 132.98 807.74 133.17C805.35 133.36 798.78 133.99 795.30 134.63C791.81 135.27 786.12 136.98 782.85 137.75C779.58 138.51 774.99 139.54 771.94 140.08C768.88 140.63 763.65 141.43 761.04 141.65C758.42 141.87 755.43 141.82 753.25 141.65C751.07 141.47 747.21 140.72 745.46 140.40C743.72 140.07 741.88 139.79 740.79 139.31C739.70 138.83 738.33 137.84 737.68 136.97C737.02 136.10 736.29 134.07 736.11 133.09C735.94 132.11 736.10 130.83 736.42 129.96C736.75 129.08 738.60 127.72 738.45 126.85C738.30 125.98 735.93 124.72 735.34 123.74C734.75 122.76 734.36 121.05 734.25 119.85C734.14 118.66 734.09 116.49 734.57 115.18C735.05 113.87 736.59 111.64 737.68 110.50C738.77 109.37 740.83 108.06 742.35 107.08C743.88 106.10 746.61 104.64 748.57 103.49C750.54 102.33 754.18 100.01 756.36 98.81C758.54 97.61 761.97 95.83 764.15 94.93C766.33 94.02 769.75 93.07 771.94 92.36C774.12 91.65 777.54 90.53 779.72 89.85C781.90 89.18 785.33 88.17 787.51 87.56C789.69 86.94 793.12 86.05 795.30 85.47C797.48 84.89 800.90 83.94 803.08 83.38C805.26 82.83 808.69 82.01 810.87 81.50C813.05 80.99 816.50 80.21 818.68 79.73C820.86 79.25 824.49 78.47 826.47 78.06C828.44 77.65 830.70 77.22 832.79 76.81Z"/><path d="M832.79 77.12C830.52 77.81 827.60 78.24 825.90 79.21C824.21 80.17 821.85 82.31 820.68 84.01C819.51 85.70 817.99 89.12 817.55 91.32C817.11 93.51 817.41 97.33 817.55 99.67C817.70 102.00 818.16 105.68 818.59 108.02C819.03 110.35 819.81 114.18 820.68 116.37C821.56 118.56 823.40 121.77 824.86 123.67C826.32 125.57 829.37 128.48 831.12 129.94C832.87 131.40 835.63 132.94 837.38 134.11C839.14 135.28 841.89 137.32 843.65 138.29C845.40 139.25 848.16 140.48 849.91 141.00C851.66 141.53 854.42 141.99 856.17 142.05C857.93 142.10 860.83 141.86 862.44 141.42C864.04 140.98 866.49 139.94 867.66 138.91C868.82 137.89 870.11 135.66 870.79 134.11C871.46 132.56 872.31 129.75 872.46 127.85C872.60 125.95 872.21 122.59 871.83 120.54C871.45 118.50 870.62 115.43 869.74 113.24C868.87 111.04 867.03 107.22 865.57 104.89C864.11 102.55 861.06 98.73 859.30 96.53C857.55 94.34 854.80 91.07 853.04 89.23C851.29 87.39 848.53 84.78 846.78 83.38C845.03 81.98 842.47 80.08 840.52 79.21C838.56 78.33 835.34 77.81 832.79 77.12Z"/></clipPath>
<path d="M832.79 76.81C835.68 77.39 838.58 77.85 841.56 78.58C844.54 79.31 850.29 80.90 854.09 82.03C857.89 83.15 864.61 85.32 868.70 86.62C872.79 87.92 879.22 89.84 883.31 91.32C887.41 92.79 894.13 95.55 897.93 97.16C901.73 98.77 907.24 101.28 910.45 102.80C913.67 104.32 918.55 106.70 920.89 108.02C923.23 109.33 925.93 111.02 927.15 112.19C928.38 113.36 929.43 115.20 929.66 116.37C929.89 117.54 929.32 119.52 928.82 120.54C928.33 121.57 926.87 122.80 926.11 123.67C925.35 124.55 923.69 125.78 923.40 126.81C923.10 127.83 924.23 129.75 924.02 130.98C923.82 132.21 922.96 134.46 921.94 135.57C920.91 136.68 918.62 138.24 916.72 138.91C914.82 139.59 910.70 140.23 908.37 140.38C906.03 140.52 902.35 140.16 900.01 139.96C897.68 139.75 894.00 139.29 891.66 138.91C889.33 138.53 885.65 137.71 883.31 137.24C880.97 136.78 877.30 136.01 874.96 135.57C872.62 135.14 868.95 134.46 866.61 134.11C864.27 133.76 861.18 133.22 858.26 133.07C855.34 132.92 849.24 133.07 845.73 133.07C842.23 133.07 836.72 133.07 833.21 133.07C829.70 133.07 823.61 133.04 820.68 133.07C817.76 133.10 814.14 133.26 812.33 133.28C810.52 133.29 810.12 132.98 807.74 133.17C805.35 133.36 798.78 133.99 795.30 134.63C791.81 135.27 786.12 136.98 782.85 137.75C779.58 138.51 774.99 139.54 771.94 140.08C768.88 140.63 763.65 141.43 761.04 141.65C758.42 141.87 755.43 141.82 753.25 141.65C751.07 141.47 747.21 140.72 745.46 140.40C743.72 140.07 741.88 139.79 740.79 139.31C739.70 138.83 738.33 137.84 737.68 136.97C737.02 136.10 736.29 134.07 736.11 133.09C735.94 132.11 736.10 130.83 736.42 129.96C736.75 129.08 738.60 127.72 738.45 126.85C738.30 125.98 735.93 124.72 735.34 123.74C734.75 122.76 734.36 121.05 734.25 119.85C734.14 118.66 734.09 116.49 734.57 115.18C735.05 113.87 736.59 111.64 737.68 110.50C738.77 109.37 740.83 108.06 742.35 107.08C743.88 106.10 746.61 104.64 748.57 103.49C750.54 102.33 754.18 100.01 756.36 98.81C758.54 97.61 761.97 95.83 764.15 94.93C766.33 94.02 769.75 93.07 771.94 92.36C774.12 91.65 777.54 90.53 779.72 89.85C781.90 89.18 785.33 88.17 787.51 87.56C789.69 86.94 793.12 86.05 795.30 85.47C797.48 84.89 800.90 83.94 803.08 83.38C805.26 82.83 808.69 82.01 810.87 81.50C813.05 80.99 816.50 80.21 818.68 79.73C820.86 79.25 824.49 78.47 826.47 78.06C828.44 77.65 830.70 77.22 832.79 76.81Z" fill="#ffff00" stroke="none"/>
<path d="M832.79 77.12C830.52 77.81 827.60 78.24 825.90 79.21C824.21 80.17 821.85 82.31 820.68 84.01C819.51 85.70 817.99 89.12 817.55 91.32C817.11 93.51 817.41 97.33 817.55 99.67C817.70 102.00 818.16 105.68 818.59 108.02C819.03 110.35 819.81 114.18 820.68 116.37C821.56 118.56 823.40 121.77 824.86 123.67C826.32 125.57 829.37 128.48 831.12 129.94C832.87 131.40 835.63 132.94 837.38 134.11C839.14 135.28 841.89 137.32 843.65 138.29C845.40 139.25 848.16 140.48 849.91 141.00C851.66 141.53 854.42 141.99 856.17 142.05C857.93 142.10 860.83 141.86 862.44 141.42C864.04 140.98 866.49 139.94 867.66 138.91C868.82 137.89 870.11 135.66 870.79 134.11C871.46 132.56 872.31 129.75 872.46 127.85C872.60 125.95 872.21 122.59 871.83 120.54C871.45 118.50 870.62 115.43 869.74 113.24C868.87 111.04 867.03 107.22 865.57 104.89C864.11 102.55 861.06 98.73 859.30 96.53C857.55 94.34 854.80 91.07 853.04 89.23C851.29 87.39 848.53 84.78 846.78 83.38C845.03 81.98 842.47 80.08 840.52 79.21C838.56 78.33 835.34 77.81 832.79 77.12Z" fill="#ffff00" stroke="none"/>
<g clip-path="url(#s3)" fill="none" stroke="#ffffff" stroke-width="1.8" stroke-opacity="0.07"><circle cx="833.20" cy="77.60" r="24.10"/><circle cx="833.20" cy="77.60" r="48.20"/><circle cx="833.20" cy="77.60" r="72.30"/><circle cx="833.20" cy="77.60" r="96.40"/><circle cx="833.20" cy="77.60" r="120.50"/><circle cx="833.20" cy="77.60" r="144.60"/><path d="M857.30 77.60 L1133.20 77.60M856.48 83.84 L1122.98 155.25M854.07 89.65 L1093.01 227.60M850.24 94.64 L1045.33 289.73M845.25 98.47 L983.20 337.41M839.44 100.88 L910.85 367.38M833.20 101.70 L833.20 377.60M826.96 100.88 L755.55 367.38M821.15 98.47 L683.20 337.41M816.16 94.64 L621.07 289.73M812.33 89.65 L573.39 227.60M809.92 83.84 L543.42 155.25M809.10 77.60 L533.20 77.60M809.92 71.36 L543.42 -0.05M812.33 65.55 L573.39 -72.40M816.16 60.56 L621.07 -134.53M821.15 56.73 L683.20 -182.21M826.96 54.32 L755.55 -212.18M833.20 53.50 L833.20 -222.40M839.44 54.32 L910.85 -212.18M845.25 56.73 L983.20 -182.21M850.24 60.56 L1045.33 -134.53M854.07 65.55 L1093.01 -72.40M856.48 71.36 L1122.98 -0.05"/></g>
<path d="M832.79 76.81C835.68 77.39 838.58 77.85 841.56 78.58C844.54 79.31 850.29 80.90 854.09 82.03C857.89 83.15 864.61 85.32 868.70 86.62C872.79 87.92 879.22 89.84 883.31 91.32C887.41 92.79 894.13 95.55 897.93 97.16C901.73 98.77 907.24 101.28 910.45 102.80C913.67 104.32 918.55 106.70 920.89 108.02C923.23 109.33 925.93 111.02 927.15 112.19C928.38 113.36 929.43 115.20 929.66 116.37C929.89 117.54 929.32 119.52 928.82 120.54C928.33 121.57 926.87 122.80 926.11 123.67C925.35 124.55 923.69 125.78 923.40 126.81C923.10 127.83 924.23 129.75 924.02 130.98C923.82 132.21 922.96 134.46 921.94 135.57C920.91 136.68 918.62 138.24 916.72 138.91C914.82 139.59 910.70 140.23 908.37 140.38C906.03 140.52 902.35 140.16 900.01 139.96C897.68 139.75 894.00 139.29 891.66 138.91C889.33 138.53 885.65 137.71 883.31 137.24C880.97 136.78 877.30 136.01 874.96 135.57C872.62 135.14 868.95 134.46 866.61 134.11C864.27 133.76 861.18 133.22 858.26 133.07C855.34 132.92 849.24 133.07 845.73 133.07C842.23 133.07 836.72 133.07 833.21 133.07C829.70 133.07 823.61 133.04 820.68 133.07C817.76 133.10 814.14 133.26 812.33 133.28C810.52 133.29 810.12 132.98 807.74 133.17C805.35 133.36 798.78 133.99 795.30 134.63C791.81 135.27 786.12 136.98 782.85 137.75C779.58 138.51 774.99 139.54 771.94 140.08C768.88 140.63 763.65 141.43 761.04 141.65C758.42 141.87 755.43 141.82 753.25 141.65C751.07 141.47 747.21 140.72 745.46 140.40C743.72 140.07 741.88 139.79 740.79 139.31C739.70 138.83 738.33 137.84 737.68 136.97C737.02 136.10 736.29 134.07 736.11 133.09C735.94 132.11 736.10 130.83 736.42 129.96C736.75 129.08 738.60 127.72 738.45 126.85C738.30 125.98 735.93 124.72 735.34 123.74C734.75 122.76 734.36 121.05 734.25 119.85C734.14 118.66 734.09 116.49 734.57 115.18C735.05 113.87 736.59 111.64 737.68 110.50C738.77 109.37 740.83 108.06 742.35 107.08C743.88 106.10 746.61 104.64 748.57 103.49C750.54 102.33 754.18 100.01 756.36 98.81C758.54 97.61 761.97 95.83 764.15 94.93C766.33 94.02 769.75 93.07 771.94 92.36C774.12 91.65 777.54 90.53 779.72 89.85C781.90 89.18 785.33 88.17 787.51 87.56C789.69 86.94 793.12 86.05 795.30 85.47C797.48 84.89 800.90 83.94 803.08 83.38C805.26 82.83 808.69 82.01 810.87 81.50C813.05 80.99 816.50 80.21 818.68 79.73C820.86 79.25 824.49 78.47 826.47 78.06C828.44 77.65 830.70 77.22 832.79 76.81Z" fill="none" stroke="#4c4c5c" stroke-width="0.90" stroke-linejoin="round"/>
<path d="M832.79 77.12C830.52 77.81 827.60 78.24 825.90 79.21C824.21 80.17 821.85 82.31 820.68 84.01C819.51 85.70 817.99 89.12 817.55 91.32C817.11 93.51 817.41 97.33 817.55 99.67C817.70 102.00 818.16 105.68 818.59 108.02C819.03 110.35 819.81 114.18 820.68 116.37C821.56 118.56 823.40 121.77 824.86 123.67C826.32 125.57 829.37 128.48 831.12 129.94C832.87 131.40 835.63 132.94 837.38 134.11C839.14 135.28 841.89 137.32 843.65 138.29C845.40 139.25 848.16 140.48 849.91 141.00C851.66 141.53 854.42 141.99 856.17 142.05C857.93 142.10 860.83 141.86 862.44 141.42C864.04 140.98 866.49 139.94 867.66 138.91C868.82 137.89 870.11 135.66 870.79 134.11C871.46 132.56 872.31 129.75 872.46 127.85C872.60 125.95 872.21 122.59 871.83 120.54C871.45 118.50 870.62 115.43 869.74 113.24C868.87 111.04 867.03 107.22 865.57 104.89C864.11 102.55 861.06 98.73 859.30 96.53C857.55 94.34 854.80 91.07 853.04 89.23C851.29 87.39 848.53 84.78 846.78 83.38C845.03 81.98 842.47 80.08 840.52 79.21C838.56 78.33 835.34 77.81 832.79 77.12Z" fill="none" stroke="#c47a18" stroke-width="1.00" stroke-linejoin="round"/>
<path d="M830.39 77.31 Q832.79 76.31 835.19 77.31" fill="none" stroke="#2e2622" stroke-width="1.3" stroke-linecap="round"/>
</g>
<rect x="733.30" y="47.60" width="200.50" height="199.80" fill="none" stroke="#6e6e6e" stroke-width="1.1"/>
<text class="t" x="732.00" y="35.50">TYPE III-S</text>
<text class="n" x="935.90" y="34.70">0324</text>
<clipPath id="c4"><rect x="4.70" y="298.50" width="199.90" height="200.10"/></clipPath>
<g clip-path="url(#c4)">
<g class="g">
<circle cx="104.60" cy="328.50" r="28.40"/><circle cx="104.60" cy="328.50" r="56.80"/><circle cx="104.60" cy="328.50" r="85.20"/><circle cx="104.60" cy="328.50" r="113.60"/><circle cx="104.60" cy="328.50" r="142.00"/><circle cx="104.60" cy="328.50" r="170.40"/><circle cx="104.60" cy="328.50" r="198.80"/><circle cx="104.60" cy="328.50" r="227.20"/><circle cx="104.60" cy="328.50" r="255.60"/>
<path d="M133.00 328.50 L404.60 328.50M132.03 335.85 L394.38 406.15M129.20 342.70 L364.41 478.50M124.68 348.58 L316.73 540.63M118.80 353.10 L254.60 588.31M111.95 355.93 L182.25 618.28M104.60 356.90 L104.60 628.50M97.25 355.93 L26.95 618.28M90.40 353.10 L-45.40 588.31M84.52 348.58 L-107.53 540.63M80.00 342.70 L-155.21 478.50M77.17 335.85 L-185.18 406.15M76.20 328.50 L-195.40 328.50M77.17 321.15 L-185.18 250.85M80.00 314.30 L-155.21 178.50M84.52 308.42 L-107.53 116.37M90.40 303.90 L-45.40 68.69M97.25 301.07 L26.95 38.72M104.60 300.10 L104.60 28.50M111.95 301.07 L182.25 38.72M118.80 303.90 L254.60 68.69M124.68 308.42 L316.73 116.37M129.20 314.30 L364.41 178.50M132.03 321.15 L394.38 250.85"/>
</g>
<clipPath id="s4"><path d="M104.00 327.87C106.89 328.62 110.31 329.55 112.77 330.16C115.22 330.78 119.08 331.59 121.54 332.25C123.99 332.91 127.85 334.14 130.30 334.88C132.76 335.62 136.62 336.77 139.07 337.51C141.53 338.25 145.39 339.28 147.84 340.14C150.30 341.00 154.17 342.67 156.61 343.65C159.05 344.63 162.85 346.03 165.29 347.14C167.74 348.24 171.86 350.42 174.06 351.52C176.27 352.62 179.33 354.15 181.04 355.01C182.74 355.87 184.78 356.72 186.25 357.66C187.73 358.59 190.39 360.58 191.58 361.69C192.76 362.79 194.37 364.51 194.73 365.53C195.10 366.55 194.88 368.26 194.19 368.99C193.50 369.73 191.15 370.49 189.80 370.79C188.46 371.09 186.05 370.95 184.58 371.14C183.12 371.34 180.84 371.70 179.37 372.19C177.89 372.68 175.54 373.72 174.06 374.63C172.58 375.54 170.28 377.61 168.80 378.66C167.32 379.71 164.97 381.16 163.50 382.15C162.03 383.13 159.74 384.71 158.28 385.70C156.82 386.68 154.53 388.45 153.06 389.18C151.59 389.91 149.74 390.50 147.78 390.91C145.82 391.33 141.52 391.92 139.07 392.17C136.63 392.41 132.76 392.60 130.30 392.67C127.85 392.74 123.99 392.71 121.54 392.67C119.08 392.63 115.22 392.45 112.77 392.38C110.31 392.31 106.95 392.23 104.00 392.17C101.05 392.11 95.16 392.02 91.68 391.96C88.20 391.90 82.66 391.84 79.16 391.75C75.65 391.66 69.85 391.62 66.63 391.33C63.42 391.04 58.82 390.39 56.19 389.66C53.56 388.93 49.89 387.34 47.84 386.11C45.80 384.89 43.04 382.35 41.58 380.89C40.12 379.43 38.57 376.99 37.40 375.67C36.23 374.36 34.69 372.38 33.23 371.50C31.77 370.62 28.86 369.91 26.96 369.41C25.06 368.91 21.41 368.45 19.66 367.95C17.90 367.45 15.61 366.53 14.44 365.86C13.27 365.19 11.31 364.03 11.31 363.15C11.31 362.27 13.12 360.77 14.44 359.60C15.75 358.43 18.66 356.05 20.70 354.80C22.75 353.54 26.13 351.94 29.05 350.62C31.97 349.31 37.78 346.72 41.58 345.40C45.38 344.09 52.10 342.40 56.19 341.23C60.28 340.06 66.71 338.22 70.81 337.05C74.90 335.88 81.91 333.90 85.42 332.88C88.93 331.85 93.26 330.45 95.86 329.75C98.46 329.04 101.31 328.49 104.00 327.87Z"/><path d="M103.79 328.28C101.17 329.11 97.85 329.85 95.86 330.79C93.87 331.72 90.91 333.65 89.59 334.96C88.28 336.28 87.05 338.58 86.46 340.18C85.88 341.79 85.71 344.69 85.42 346.45C85.13 348.20 84.43 351.45 84.38 352.71C84.32 353.97 84.42 354.84 85.00 355.42C85.59 356.01 87.76 356.10 88.55 356.89C89.34 357.67 90.05 359.45 90.64 361.06C91.22 362.67 92.00 366.18 92.73 368.37C93.46 370.56 94.84 374.53 95.86 376.72C96.88 378.91 98.72 382.13 100.03 384.03C101.35 385.92 103.79 388.74 105.25 390.29C106.71 391.84 108.86 393.92 110.47 395.09C112.08 396.26 114.69 397.94 116.73 398.64C118.78 399.34 122.75 399.95 125.09 400.10C127.42 400.25 131.10 400.09 133.44 399.68C135.77 399.27 139.74 398.05 141.79 397.18C143.83 396.30 146.73 394.68 148.05 393.42C149.37 392.16 150.45 389.37 151.18 388.20C151.91 387.03 152.25 385.80 153.27 385.07C154.29 384.34 157.32 383.71 158.49 382.98C159.66 382.25 161.15 381.02 161.62 379.85C162.09 378.68 162.03 376.09 161.83 374.63C161.62 373.17 160.86 370.87 160.16 369.41C159.46 367.95 157.82 365.51 156.82 364.19C155.82 362.87 154.77 361.65 153.00 360.00C151.23 358.34 147.17 354.88 144.19 352.40C141.21 349.92 135.20 344.92 131.70 342.29C128.21 339.66 122.02 335.31 119.20 333.61C116.37 331.91 113.67 330.91 111.52 330.16C109.36 329.42 106.34 328.90 103.79 328.28Z"/></clipPath>
<path d="M104.00 327.87C106.89 328.62 110.31 329.55 112.77 330.16C115.22 330.78 119.08 331.59 121.54 332.25C123.99 332.91 127.85 334.14 130.30 334.88C132.76 335.62 136.62 336.77 139.07 337.51C141.53 338.25 145.39 339.28 147.84 340.14C150.30 341.00 154.17 342.67 156.61 343.65C159.05 344.63 162.85 346.03 165.29 347.14C167.74 348.24 171.86 350.42 174.06 351.52C176.27 352.62 179.33 354.15 181.04 355.01C182.74 355.87 184.78 356.72 186.25 357.66C187.73 358.59 190.39 360.58 191.58 361.69C192.76 362.79 194.37 364.51 194.73 365.53C195.10 366.55 194.88 368.26 194.19 368.99C193.50 369.73 191.15 370.49 189.80 370.79C188.46 371.09 186.05 370.95 184.58 371.14C183.12 371.34 180.84 371.70 179.37 372.19C177.89 372.68 175.54 373.72 174.06 374.63C172.58 375.54 170.28 377.61 168.80 378.66C167.32 379.71 164.97 381.16 163.50 382.15C162.03 383.13 159.74 384.71 158.28 385.70C156.82 386.68 154.53 388.45 153.06 389.18C151.59 389.91 149.74 390.50 147.78 390.91C145.82 391.33 141.52 391.92 139.07 392.17C136.63 392.41 132.76 392.60 130.30 392.67C127.85 392.74 123.99 392.71 121.54 392.67C119.08 392.63 115.22 392.45 112.77 392.38C110.31 392.31 106.95 392.23 104.00 392.17C101.05 392.11 95.16 392.02 91.68 391.96C88.20 391.90 82.66 391.84 79.16 391.75C75.65 391.66 69.85 391.62 66.63 391.33C63.42 391.04 58.82 390.39 56.19 389.66C53.56 388.93 49.89 387.34 47.84 386.11C45.80 384.89 43.04 382.35 41.58 380.89C40.12 379.43 38.57 376.99 37.40 375.67C36.23 374.36 34.69 372.38 33.23 371.50C31.77 370.62 28.86 369.91 26.96 369.41C25.06 368.91 21.41 368.45 19.66 367.95C17.90 367.45 15.61 366.53 14.44 365.86C13.27 365.19 11.31 364.03 11.31 363.15C11.31 362.27 13.12 360.77 14.44 359.60C15.75 358.43 18.66 356.05 20.70 354.80C22.75 353.54 26.13 351.94 29.05 350.62C31.97 349.31 37.78 346.72 41.58 345.40C45.38 344.09 52.10 342.40 56.19 341.23C60.28 340.06 66.71 338.22 70.81 337.05C74.90 335.88 81.91 333.90 85.42 332.88C88.93 331.85 93.26 330.45 95.86 329.75C98.46 329.04 101.31 328.49 104.00 327.87Z" fill="#ffff00" stroke="none"/>
<path d="M103.79 328.28C101.17 329.11 97.85 329.85 95.86 330.79C93.87 331.72 90.91 333.65 89.59 334.96C88.28 336.28 87.05 338.58 86.46 340.18C85.88 341.79 85.71 344.69 85.42 346.45C85.13 348.20 84.43 351.45 84.38 352.71C84.32 353.97 84.42 354.84 85.00 355.42C85.59 356.01 87.76 356.10 88.55 356.89C89.34 357.67 90.05 359.45 90.64 361.06C91.22 362.67 92.00 366.18 92.73 368.37C93.46 370.56 94.84 374.53 95.86 376.72C96.88 378.91 98.72 382.13 100.03 384.03C101.35 385.92 103.79 388.74 105.25 390.29C106.71 391.84 108.86 393.92 110.47 395.09C112.08 396.26 114.69 397.94 116.73 398.64C118.78 399.34 122.75 399.95 125.09 400.10C127.42 400.25 131.10 400.09 133.44 399.68C135.77 399.27 139.74 398.05 141.79 397.18C143.83 396.30 146.73 394.68 148.05 393.42C149.37 392.16 150.45 389.37 151.18 388.20C151.91 387.03 152.25 385.80 153.27 385.07C154.29 384.34 157.32 383.71 158.49 382.98C159.66 382.25 161.15 381.02 161.62 379.85C162.09 378.68 162.03 376.09 161.83 374.63C161.62 373.17 160.86 370.87 160.16 369.41C159.46 367.95 157.82 365.51 156.82 364.19C155.82 362.87 154.77 361.65 153.00 360.00C151.23 358.34 147.17 354.88 144.19 352.40C141.21 349.92 135.20 344.92 131.70 342.29C128.21 339.66 122.02 335.31 119.20 333.61C116.37 331.91 113.67 330.91 111.52 330.16C109.36 329.42 106.34 328.90 103.79 328.28Z" fill="#ffff00" stroke="none"/>
<g clip-path="url(#s4)" fill="none" stroke="#ffffff" stroke-width="1.8" stroke-opacity="0.07"><circle cx="104.60" cy="328.50" r="28.40"/><circle cx="104.60" cy="328.50" r="56.80"/><circle cx="104.60" cy="328.50" r="85.20"/><circle cx="104.60" cy="328.50" r="113.60"/><circle cx="104.60" cy="328.50" r="142.00"/><path d="M133.00 328.50 L404.60 328.50M132.03 335.85 L394.38 406.15M129.20 342.70 L364.41 478.50M124.68 348.58 L316.73 540.63M118.80 353.10 L254.60 588.31M111.95 355.93 L182.25 618.28M104.60 356.90 L104.60 628.50M97.25 355.93 L26.95 618.28M90.40 353.10 L-45.40 588.31M84.52 348.58 L-107.53 540.63M80.00 342.70 L-155.21 478.50M77.17 335.85 L-185.18 406.15M76.20 328.50 L-195.40 328.50M77.17 321.15 L-185.18 250.85M80.00 314.30 L-155.21 178.50M84.52 308.42 L-107.53 116.37M90.40 303.90 L-45.40 68.69M97.25 301.07 L26.95 38.72M104.60 300.10 L104.60 28.50M111.95 301.07 L182.25 38.72M118.80 303.90 L254.60 68.69M124.68 308.42 L316.73 116.37M129.20 314.30 L364.41 178.50M132.03 321.15 L394.38 250.85"/></g>
<path d="M104.00 327.87C106.89 328.62 110.31 329.55 112.77 330.16C115.22 330.78 119.08 331.59 121.54 332.25C123.99 332.91 127.85 334.14 130.30 334.88C132.76 335.62 136.62 336.77 139.07 337.51C141.53 338.25 145.39 339.28 147.84 340.14C150.30 341.00 154.17 342.67 156.61 343.65C159.05 344.63 162.85 346.03 165.29 347.14C167.74 348.24 171.86 350.42 174.06 351.52C176.27 352.62 179.33 354.15 181.04 355.01C182.74 355.87 184.78 356.72 186.25 357.66C187.73 358.59 190.39 360.58 191.58 361.69C192.76 362.79 194.37 364.51 194.73 365.53C195.10 366.55 194.88 368.26 194.19 368.99C193.50 369.73 191.15 370.49 189.80 370.79C188.46 371.09 186.05 370.95 184.58 371.14C183.12 371.34 180.84 371.70 179.37 372.19C177.89 372.68 175.54 373.72 174.06 374.63C172.58 375.54 170.28 377.61 168.80 378.66C167.32 379.71 164.97 381.16 163.50 382.15C162.03 383.13 159.74 384.71 158.28 385.70C156.82 386.68 154.53 388.45 153.06 389.18C151.59 389.91 149.74 390.50 147.78 390.91C145.82 391.33 141.52 391.92 139.07 392.17C136.63 392.41 132.76 392.60 130.30 392.67C127.85 392.74 123.99 392.71 121.54 392.67C119.08 392.63 115.22 392.45 112.77 392.38C110.31 392.31 106.95 392.23 104.00 392.17C101.05 392.11 95.16 392.02 91.68 391.96C88.20 391.90 82.66 391.84 79.16 391.75C75.65 391.66 69.85 391.62 66.63 391.33C63.42 391.04 58.82 390.39 56.19 389.66C53.56 388.93 49.89 387.34 47.84 386.11C45.80 384.89 43.04 382.35 41.58 380.89C40.12 379.43 38.57 376.99 37.40 375.67C36.23 374.36 34.69 372.38 33.23 371.50C31.77 370.62 28.86 369.91 26.96 369.41C25.06 368.91 21.41 368.45 19.66 367.95C17.90 367.45 15.61 366.53 14.44 365.86C13.27 365.19 11.31 364.03 11.31 363.15C11.31 362.27 13.12 360.77 14.44 359.60C15.75 358.43 18.66 356.05 20.70 354.80C22.75 353.54 26.13 351.94 29.05 350.62C31.97 349.31 37.78 346.72 41.58 345.40C45.38 344.09 52.10 342.40 56.19 341.23C60.28 340.06 66.71 338.22 70.81 337.05C74.90 335.88 81.91 333.90 85.42 332.88C88.93 331.85 93.26 330.45 95.86 329.75C98.46 329.04 101.31 328.49 104.00 327.87Z" fill="none" stroke="#6a6aa0" stroke-width="0.90" stroke-linejoin="round"/>
<path d="M103.79 328.28C101.17 329.11 97.85 329.85 95.86 330.79C93.87 331.72 90.91 333.65 89.59 334.96C88.28 336.28 87.05 338.58 86.46 340.18C85.88 341.79 85.71 344.69 85.42 346.45C85.13 348.20 84.43 351.45 84.38 352.71C84.32 353.97 84.42 354.84 85.00 355.42C85.59 356.01 87.76 356.10 88.55 356.89C89.34 357.67 90.05 359.45 90.64 361.06C91.22 362.67 92.00 366.18 92.73 368.37C93.46 370.56 94.84 374.53 95.86 376.72C96.88 378.91 98.72 382.13 100.03 384.03C101.35 385.92 103.79 388.74 105.25 390.29C106.71 391.84 108.86 393.92 110.47 395.09C112.08 396.26 114.69 397.94 116.73 398.64C118.78 399.34 122.75 399.95 125.09 400.10C127.42 400.25 131.10 400.09 133.44 399.68C135.77 399.27 139.74 398.05 141.79 397.18C143.83 396.30 146.73 394.68 148.05 393.42C149.37 392.16 150.45 389.37 151.18 388.20C151.91 387.03 152.25 385.80 153.27 385.07C154.29 384.34 157.32 383.71 158.49 382.98C159.66 382.25 161.15 381.02 161.62 379.85C162.09 378.68 162.03 376.09 161.83 374.63C161.62 373.17 160.86 370.87 160.16 369.41C159.46 367.95 157.82 365.51 156.82 364.19C155.82 362.87 154.77 361.65 153.00 360.00C151.23 358.34 147.17 354.88 144.19 352.40C141.21 349.92 135.20 344.92 131.70 342.29C128.21 339.66 122.02 335.31 119.20 333.61C116.37 331.91 113.67 330.91 111.52 330.16C109.36 329.42 106.34 328.90 103.79 328.28Z" fill="none" stroke="#bc441a" stroke-width="1.00" stroke-linejoin="round"/>
<path d="M101.60 328.37 Q104.00 327.37 106.40 328.37" fill="none" stroke="#2e2622" stroke-width="1.3" stroke-linecap="round"/>
</g>
<rect x="4.70" y="298.50" width="199.90" height="200.10" fill="none" stroke="#6e6e6e" stroke-width="1.1"/>
<text class="t" x="3.10" y="288.80">TYPE III-<tspan dx="1.5">M</tspan></text>
<text class="n" x="197.40" y="288.00">0256</text>
<clipPath id="c5"><rect x="246.50" y="298.50" width="201.10" height="200.10"/></clipPath>
<g clip-path="url(#c5)">
<g class="g">
<circle cx="346.00" cy="328.50" r="33.80"/><circle cx="346.00" cy="328.50" r="67.60"/><circle cx="346.00" cy="328.50" r="101.40"/><circle cx="346.00" cy="328.50" r="135.20"/><circle cx="346.00" cy="328.50" r="169.00"/><circle cx="346.00" cy="328.50" r="202.80"/><circle cx="346.00" cy="328.50" r="236.60"/>
<path d="M379.80 328.50 L646.00 328.50M378.65 337.25 L635.78 406.15M375.27 345.40 L605.81 478.50M369.90 352.40 L558.13 540.63M362.90 357.77 L496.00 588.31M354.75 361.15 L423.65 618.28M346.00 362.30 L346.00 628.50M337.25 361.15 L268.35 618.28M329.10 357.77 L196.00 588.31M322.10 352.40 L133.87 540.63M316.73 345.40 L86.19 478.50M313.35 337.25 L56.22 406.15M312.20 328.50 L46.00 328.50M313.35 319.75 L56.22 250.85M316.73 311.60 L86.19 178.50M322.10 304.60 L133.87 116.37M329.10 299.23 L196.00 68.69M337.25 295.85 L268.35 38.72M346.00 294.70 L346.00 28.50M354.75 295.85 L423.65 38.72M362.90 299.23 L496.00 68.69M369.90 304.60 L558.13 116.37M375.27 311.60 L605.81 178.50M378.65 319.75 L635.78 250.85"/>
</g>
<clipPath id="s5"><path d="M346.00 327.78C348.55 328.20 351.54 328.60 353.72 329.04C355.90 329.47 359.38 330.37 361.57 330.89C363.77 331.42 367.21 332.23 369.38 332.77C371.56 333.32 374.93 334.19 377.11 334.80C379.28 335.41 382.74 336.48 384.94 337.14C387.13 337.79 390.59 338.82 392.76 339.47C394.94 340.13 398.31 341.16 400.49 341.81C402.66 342.47 406.11 343.34 408.30 344.15C410.48 344.96 413.90 346.59 416.08 347.57C418.26 348.55 421.47 349.88 423.87 351.14C426.28 352.41 430.87 355.07 433.27 356.59C435.66 358.12 439.36 360.63 440.99 362.04C442.62 363.46 444.26 365.72 444.91 366.70C445.57 367.68 445.91 368.40 445.69 369.06C445.47 369.71 444.66 370.74 443.35 371.39C442.04 372.05 439.06 373.12 436.33 373.73C433.61 374.34 427.80 375.32 423.87 375.76C419.95 376.19 412.65 376.84 408.30 376.84C403.94 376.84 397.13 376.04 392.76 375.76C388.40 375.48 381.47 374.97 377.11 374.84C372.74 374.71 365.93 374.77 361.57 374.84C357.22 374.90 349.61 375.33 346.00 375.30C342.39 375.27 338.66 374.81 335.77 374.63C332.88 374.45 328.25 374.24 325.33 374.00C322.41 373.77 317.52 373.31 314.89 372.96C312.26 372.61 309.17 371.76 306.54 371.50C303.91 371.24 299.32 371.14 296.10 371.08C292.89 371.02 287.09 371.17 283.58 371.08C280.07 370.99 273.97 370.69 271.05 370.46C268.13 370.22 264.75 369.85 262.70 369.41C260.66 368.97 257.90 368.05 256.44 367.32C254.98 366.59 252.99 365.07 252.26 364.19C251.53 363.32 250.93 362.08 251.22 361.06C251.51 360.04 253.04 357.97 254.35 356.89C255.67 355.80 258.28 354.42 260.61 353.34C262.95 352.25 267.84 350.33 271.05 349.16C274.27 347.99 279.78 346.15 283.58 344.99C287.38 343.82 294.10 341.98 298.19 340.81C302.28 339.64 308.71 337.80 312.81 336.63C316.90 335.47 323.91 333.42 327.42 332.46C330.93 331.49 335.26 330.40 337.86 329.75C340.46 329.09 343.31 328.43 346.00 327.78Z"/><path d="M346.00 327.78C343.66 329.12 340.63 330.54 338.90 331.83C337.18 333.13 334.85 335.44 333.68 337.05C332.51 338.66 330.99 341.85 330.55 343.32C330.11 344.78 330.17 346.32 330.55 347.49C330.93 348.66 332.68 350.20 333.27 351.67C333.85 353.13 334.23 356.03 334.73 357.93C335.22 359.83 335.94 363.34 336.81 365.24C337.69 367.14 339.70 370.09 340.99 371.50C342.28 372.91 344.21 374.44 346.00 375.30C347.79 376.16 351.61 376.87 353.79 377.64C355.97 378.40 359.39 379.77 361.57 380.75C363.76 381.73 367.21 383.34 369.38 384.65C371.56 385.96 374.93 388.66 377.11 390.08C379.28 391.49 382.97 393.77 384.94 394.76C386.91 395.74 389.65 396.77 391.18 397.09C392.71 397.42 394.66 397.53 395.85 397.09C397.05 396.66 399.04 395.18 399.74 393.98C400.43 392.78 400.93 390.17 400.82 388.53C400.71 386.90 399.88 384.26 398.96 382.29C398.05 380.33 395.82 376.79 394.29 374.51C392.76 372.22 390.01 368.45 388.05 365.95C386.08 363.44 382.63 359.21 380.24 356.59C377.84 353.98 373.54 349.79 370.93 347.28C368.31 344.77 364.19 341.08 361.57 338.68C358.96 336.28 354.40 331.65 352.22 330.12C350.04 328.60 348.05 328.55 346.00 327.78Z"/></clipPath>
<path d="M346.00 327.78C348.55 328.20 351.54 328.60 353.72 329.04C355.90 329.47 359.38 330.37 361.57 330.89C363.77 331.42 367.21 332.23 369.38 332.77C371.56 333.32 374.93 334.19 377.11 334.80C379.28 335.41 382.74 336.48 384.94 337.14C387.13 337.79 390.59 338.82 392.76 339.47C394.94 340.13 398.31 341.16 400.49 341.81C402.66 342.47 406.11 343.34 408.30 344.15C410.48 344.96 413.90 346.59 416.08 347.57C418.26 348.55 421.47 349.88 423.87 351.14C426.28 352.41 430.87 355.07 433.27 356.59C435.66 358.12 439.36 360.63 440.99 362.04C442.62 363.46 444.26 365.72 444.91 366.70C445.57 367.68 445.91 368.40 445.69 369.06C445.47 369.71 444.66 370.74 443.35 371.39C442.04 372.05 439.06 373.12 436.33 373.73C433.61 374.34 427.80 375.32 423.87 375.76C419.95 376.19 412.65 376.84 408.30 376.84C403.94 376.84 397.13 376.04 392.76 375.76C388.40 375.48 381.47 374.97 377.11 374.84C372.74 374.71 365.93 374.77 361.57 374.84C357.22 374.90 349.61 375.33 346.00 375.30C342.39 375.27 338.66 374.81 335.77 374.63C332.88 374.45 328.25 374.24 325.33 374.00C322.41 373.77 317.52 373.31 314.89 372.96C312.26 372.61 309.17 371.76 306.54 371.50C303.91 371.24 299.32 371.14 296.10 371.08C292.89 371.02 287.09 371.17 283.58 371.08C280.07 370.99 273.97 370.69 271.05 370.46C268.13 370.22 264.75 369.85 262.70 369.41C260.66 368.97 257.90 368.05 256.44 367.32C254.98 366.59 252.99 365.07 252.26 364.19C251.53 363.32 250.93 362.08 251.22 361.06C251.51 360.04 253.04 357.97 254.35 356.89C255.67 355.80 258.28 354.42 260.61 353.34C262.95 352.25 267.84 350.33 271.05 349.16C274.27 347.99 279.78 346.15 283.58 344.99C287.38 343.82 294.10 341.98 298.19 340.81C302.28 339.64 308.71 337.80 312.81 336.63C316.90 335.47 323.91 333.42 327.42 332.46C330.93 331.49 335.26 330.40 337.86 329.75C340.46 329.09 343.31 328.43 346.00 327.78Z" fill="#ffff00" stroke="none"/>
<path d="M346.00 327.78C343.66 329.12 340.63 330.54 338.90 331.83C337.18 333.13 334.85 335.44 333.68 337.05C332.51 338.66 330.99 341.85 330.55 343.32C330.11 344.78 330.17 346.32 330.55 347.49C330.93 348.66 332.68 350.20 333.27 351.67C333.85 353.13 334.23 356.03 334.73 357.93C335.22 359.83 335.94 363.34 336.81 365.24C337.69 367.14 339.70 370.09 340.99 371.50C342.28 372.91 344.21 374.44 346.00 375.30C347.79 376.16 351.61 376.87 353.79 377.64C355.97 378.40 359.39 379.77 361.57 380.75C363.76 381.73 367.21 383.34 369.38 384.65C371.56 385.96 374.93 388.66 377.11 390.08C379.28 391.49 382.97 393.77 384.94 394.76C386.91 395.74 389.65 396.77 391.18 397.09C392.71 397.42 394.66 397.53 395.85 397.09C397.05 396.66 399.04 395.18 399.74 393.98C400.43 392.78 400.93 390.17 400.82 388.53C400.71 386.90 399.88 384.26 398.96 382.29C398.05 380.33 395.82 376.79 394.29 374.51C392.76 372.22 390.01 368.45 388.05 365.95C386.08 363.44 382.63 359.21 380.24 356.59C377.84 353.98 373.54 349.79 370.93 347.28C368.31 344.77 364.19 341.08 361.57 338.68C358.96 336.28 354.40 331.65 352.22 330.12C350.04 328.60 348.05 328.55 346.00 327.78Z" fill="#ffff00" stroke="none"/>
<g clip-path="url(#s5)" fill="none" stroke="#ffffff" stroke-width="1.8" stroke-opacity="0.07"><circle cx="346.00" cy="328.50" r="33.80"/><circle cx="346.00" cy="328.50" r="67.60"/><circle cx="346.00" cy="328.50" r="101.40"/><circle cx="346.00" cy="328.50" r="135.20"/><path d="M379.80 328.50 L646.00 328.50M378.65 337.25 L635.78 406.15M375.27 345.40 L605.81 478.50M369.90 352.40 L558.13 540.63M362.90 357.77 L496.00 588.31M354.75 361.15 L423.65 618.28M346.00 362.30 L346.00 628.50M337.25 361.15 L268.35 618.28M329.10 357.77 L196.00 588.31M322.10 352.40 L133.87 540.63M316.73 345.40 L86.19 478.50M313.35 337.25 L56.22 406.15M312.20 328.50 L46.00 328.50M313.35 319.75 L56.22 250.85M316.73 311.60 L86.19 178.50M322.10 304.60 L133.87 116.37M329.10 299.23 L196.00 68.69M337.25 295.85 L268.35 38.72M346.00 294.70 L346.00 28.50M354.75 295.85 L423.65 38.72M362.90 299.23 L496.00 68.69M369.90 304.60 L558.13 116.37M375.27 311.60 L605.81 178.50M378.65 319.75 L635.78 250.85"/></g>
<path d="M346.00 327.78C348.55 328.20 351.54 328.60 353.72 329.04C355.90 329.47 359.38 330.37 361.57 330.89C363.77 331.42 367.21 332.23 369.38 332.77C371.56 333.32 374.93 334.19 377.11 334.80C379.28 335.41 382.74 336.48 384.94 337.14C387.13 337.79 390.59 338.82 392.76 339.47C394.94 340.13 398.31 341.16 400.49 341.81C402.66 342.47 406.11 343.34 408.30 344.15C410.48 344.96 413.90 346.59 416.08 347.57C418.26 348.55 421.47 349.88 423.87 351.14C426.28 352.41 430.87 355.07 433.27 356.59C435.66 358.12 439.36 360.63 440.99 362.04C442.62 363.46 444.26 365.72 444.91 366.70C445.57 367.68 445.91 368.40 445.69 369.06C445.47 369.71 444.66 370.74 443.35 371.39C442.04 372.05 439.06 373.12 436.33 373.73C433.61 374.34 427.80 375.32 423.87 375.76C419.95 376.19 412.65 376.84 408.30 376.84C403.94 376.84 397.13 376.04 392.76 375.76C388.40 375.48 381.47 374.97 377.11 374.84C372.74 374.71 365.93 374.77 361.57 374.84C357.22 374.90 349.61 375.33 346.00 375.30C342.39 375.27 338.66 374.81 335.77 374.63C332.88 374.45 328.25 374.24 325.33 374.00C322.41 373.77 317.52 373.31 314.89 372.96C312.26 372.61 309.17 371.76 306.54 371.50C303.91 371.24 299.32 371.14 296.10 371.08C292.89 371.02 287.09 371.17 283.58 371.08C280.07 370.99 273.97 370.69 271.05 370.46C268.13 370.22 264.75 369.85 262.70 369.41C260.66 368.97 257.90 368.05 256.44 367.32C254.98 366.59 252.99 365.07 252.26 364.19C251.53 363.32 250.93 362.08 251.22 361.06C251.51 360.04 253.04 357.97 254.35 356.89C255.67 355.80 258.28 354.42 260.61 353.34C262.95 352.25 267.84 350.33 271.05 349.16C274.27 347.99 279.78 346.15 283.58 344.99C287.38 343.82 294.10 341.98 298.19 340.81C302.28 339.64 308.71 337.80 312.81 336.63C316.90 335.47 323.91 333.42 327.42 332.46C330.93 331.49 335.26 330.40 337.86 329.75C340.46 329.09 343.31 328.43 346.00 327.78Z" fill="none" stroke="#33333f" stroke-width="0.90" stroke-linejoin="round"/>
<path d="M346.00 327.78C343.66 329.12 340.63 330.54 338.90 331.83C337.18 333.13 334.85 335.44 333.68 337.05C332.51 338.66 330.99 341.85 330.55 343.32C330.11 344.78 330.17 346.32 330.55 347.49C330.93 348.66 332.68 350.20 333.27 351.67C333.85 353.13 334.23 356.03 334.73 357.93C335.22 359.83 335.94 363.34 336.81 365.24C337.69 367.14 339.70 370.09 340.99 371.50C342.28 372.91 344.21 374.44 346.00 375.30C347.79 376.16 351.61 376.87 353.79 377.64C355.97 378.40 359.39 379.77 361.57 380.75C363.76 381.73 367.21 383.34 369.38 384.65C371.56 385.96 374.93 388.66 377.11 390.08C379.28 391.49 382.97 393.77 384.94 394.76C386.91 395.74 389.65 396.77 391.18 397.09C392.71 397.42 394.66 397.53 395.85 397.09C397.05 396.66 399.04 395.18 399.74 393.98C400.43 392.78 400.93 390.17 400.82 388.53C400.71 386.90 399.88 384.26 398.96 382.29C398.05 380.33 395.82 376.79 394.29 374.51C392.76 372.22 390.01 368.45 388.05 365.95C386.08 363.44 382.63 359.21 380.24 356.59C377.84 353.98 373.54 349.79 370.93 347.28C368.31 344.77 364.19 341.08 361.57 338.68C358.96 336.28 354.40 331.65 352.22 330.12C350.04 328.60 348.05 328.55 346.00 327.78Z" fill="none" stroke="#cf5a14" stroke-width="1.00" stroke-linejoin="round"/>
<path d="M343.60 328.28 Q346.00 327.28 348.40 328.28" fill="none" stroke="#2e2622" stroke-width="1.3" stroke-linecap="round"/>
</g>
<rect x="246.50" y="298.50" width="201.10" height="200.10" fill="none" stroke="#6e6e6e" stroke-width="1.1"/>
<text class="t" x="245.50" y="288.90">TYPE III-L</text>
<text class="n" x="450.00" y="288.00">0314</text>
<clipPath id="c6"><rect x="489.40" y="299.70" width="200.10" height="199.80"/></clipPath>
<g clip-path="url(#c6)">
<g class="g">
<circle cx="588.90" cy="329.70" r="33.80"/><circle cx="588.90" cy="329.70" r="67.60"/><circle cx="588.90" cy="329.70" r="101.40"/><circle cx="588.90" cy="329.70" r="135.20"/><circle cx="588.90" cy="329.70" r="169.00"/><circle cx="588.90" cy="329.70" r="202.80"/><circle cx="588.90" cy="329.70" r="236.60"/>
<path d="M622.70 329.70 L888.90 329.70M621.55 338.45 L878.68 407.35M618.17 346.60 L848.71 479.70M612.80 353.60 L801.03 541.83M605.80 358.97 L738.90 589.51M597.65 362.35 L666.55 619.48M588.90 363.50 L588.90 629.70M580.15 362.35 L511.25 619.48M572.00 358.97 L438.90 589.51M565.00 353.60 L376.77 541.83M559.63 346.60 L329.09 479.70M556.25 338.45 L299.12 407.35M555.10 329.70 L288.90 329.70M556.25 320.95 L299.12 252.05M559.63 312.80 L329.09 179.70M565.00 305.80 L376.77 117.57M572.00 300.43 L438.90 69.89M580.15 297.05 L511.25 39.92M588.90 295.90 L588.90 29.70M597.65 297.05 L666.55 39.92M605.80 300.43 L738.90 69.89M612.80 305.80 L801.03 117.57M618.17 312.80 L848.71 179.70M621.55 320.95 L878.68 252.05"/>
</g>
<clipPath id="s6"><path d="M589.00 329.09C591.89 329.56 595.31 330.05 597.77 330.49C600.22 330.93 604.09 331.58 606.54 332.25C608.99 332.91 612.81 334.37 615.26 335.23C617.71 336.09 621.58 337.41 624.03 338.38C626.48 339.36 630.33 341.12 632.78 342.23C635.23 343.33 638.85 344.83 641.55 346.25C644.24 347.68 649.11 350.45 652.05 352.41C654.99 354.37 660.22 358.30 662.55 360.26C664.88 362.22 667.51 364.68 668.69 366.40C669.86 368.12 670.72 370.82 670.96 372.54C671.21 374.25 670.86 377.31 670.42 378.66C669.98 380.00 668.42 381.25 667.81 382.16C667.20 383.07 666.90 384.41 666.04 385.15C665.17 385.88 662.63 386.79 661.65 387.42C660.68 388.06 660.16 389.09 659.06 389.70C657.96 390.31 655.03 391.15 653.80 391.81C652.57 392.47 652.01 393.68 650.29 394.42C648.58 395.15 644.00 396.31 641.55 397.05C639.09 397.78 635.23 399.23 632.78 399.68C630.33 400.12 626.48 400.22 624.03 400.22C621.58 400.22 617.71 399.95 615.26 399.68C612.81 399.41 608.99 398.65 606.54 398.28C604.09 397.91 600.22 397.33 597.77 397.05C595.31 396.76 591.08 396.34 589.00 396.25C586.92 396.17 584.96 396.29 582.95 396.46C580.93 396.64 576.93 397.13 574.59 397.51C572.26 397.89 568.58 398.83 566.24 399.18C563.91 399.53 560.52 399.95 557.89 400.01C555.26 400.07 550.09 399.95 547.46 399.59C544.82 399.24 541.44 398.24 539.10 397.51C536.77 396.78 532.95 395.40 530.75 394.38C528.56 393.35 525.20 391.52 523.45 390.20C521.69 388.89 519.40 386.44 518.23 384.98C517.06 383.52 515.68 381.22 515.10 379.76C514.51 378.30 514.39 376.05 514.05 374.54C513.71 373.04 512.73 370.42 512.65 369.03C512.58 367.65 513.14 365.75 513.51 364.65C513.87 363.54 514.40 362.24 515.26 361.14C516.12 360.04 518.42 357.88 519.65 356.78C520.87 355.67 522.19 354.50 524.03 353.27C525.87 352.04 530.33 349.36 532.78 348.01C535.23 346.66 539.09 344.75 541.55 343.65C544.00 342.54 547.84 341.12 550.29 340.14C552.75 339.16 556.61 337.49 559.06 336.63C561.51 335.77 565.36 334.66 567.81 334.00C570.26 333.34 574.37 332.43 576.58 331.89C578.78 331.35 581.83 330.55 583.57 330.16C585.31 329.77 587.21 329.45 589.00 329.09Z"/><path d="M589.00 329.09C586.31 329.76 583.17 330.31 580.86 331.12C578.55 331.93 574.85 333.53 572.51 334.88C570.17 336.22 566.35 338.97 564.16 340.72C561.96 342.48 558.60 345.44 556.85 347.40C555.10 349.36 552.71 352.66 551.63 354.71C550.55 356.76 549.56 360.26 549.13 362.02C548.69 363.77 548.34 365.72 548.50 367.24C548.66 368.76 549.43 371.15 550.29 372.87C551.16 374.60 553.21 377.76 554.68 379.55C556.15 381.34 558.73 384.08 560.82 385.67C562.90 387.26 566.90 389.71 569.58 390.93C572.27 392.16 577.30 393.73 580.02 394.42C582.74 395.10 586.52 395.47 589.00 395.84C591.48 396.21 595.31 396.73 597.77 397.05C600.22 397.36 604.09 397.80 606.54 398.09C608.99 398.39 612.81 399.06 615.26 399.16C617.71 399.26 621.58 399.05 624.03 398.80C626.48 398.56 630.33 398.02 632.78 397.40C635.23 396.79 639.34 395.32 641.55 394.42C643.75 393.51 646.83 391.84 648.54 390.93C650.26 390.03 652.33 388.92 653.80 387.95C655.27 386.97 657.96 385.11 659.06 383.94C660.16 382.76 661.21 380.78 661.65 379.55C662.09 378.33 661.89 376.15 662.22 375.17C662.54 374.19 663.66 373.40 663.95 372.54C664.24 371.68 664.99 370.63 664.30 369.03C663.62 367.44 661.02 363.30 659.06 361.14C657.10 358.98 652.75 355.46 650.29 353.62C647.84 351.79 644.00 349.43 641.55 348.03C639.09 346.63 635.23 344.82 632.78 343.65C630.33 342.47 626.48 340.67 624.03 339.62C621.58 338.56 617.71 337.04 615.26 336.13C612.81 335.22 608.99 333.86 606.54 333.12C604.09 332.38 600.22 331.41 597.77 330.85C595.31 330.28 591.89 329.67 589.00 329.09Z"/></clipPath>
<path d="M589.00 329.09C591.89 329.56 595.31 330.05 597.77 330.49C600.22 330.93 604.09 331.58 606.54 332.25C608.99 332.91 612.81 334.37 615.26 335.23C617.71 336.09 621.58 337.41 624.03 338.38C626.48 339.36 630.33 341.12 632.78 342.23C635.23 343.33 638.85 344.83 641.55 346.25C644.24 347.68 649.11 350.45 652.05 352.41C654.99 354.37 660.22 358.30 662.55 360.26C664.88 362.22 667.51 364.68 668.69 366.40C669.86 368.12 670.72 370.82 670.96 372.54C671.21 374.25 670.86 377.31 670.42 378.66C669.98 380.00 668.42 381.25 667.81 382.16C667.20 383.07 666.90 384.41 666.04 385.15C665.17 385.88 662.63 386.79 661.65 387.42C660.68 388.06 660.16 389.09 659.06 389.70C657.96 390.31 655.03 391.15 653.80 391.81C652.57 392.47 652.01 393.68 650.29 394.42C648.58 395.15 644.00 396.31 641.55 397.05C639.09 397.78 635.23 399.23 632.78 399.68C630.33 400.12 626.48 400.22 624.03 400.22C621.58 400.22 617.71 399.95 615.26 399.68C612.81 399.41 608.99 398.65 606.54 398.28C604.09 397.91 600.22 397.33 597.77 397.05C595.31 396.76 591.08 396.34 589.00 396.25C586.92 396.17 584.96 396.29 582.95 396.46C580.93 396.64 576.93 397.13 574.59 397.51C572.26 397.89 568.58 398.83 566.24 399.18C563.91 399.53 560.52 399.95 557.89 400.01C555.26 400.07 550.09 399.95 547.46 399.59C544.82 399.24 541.44 398.24 539.10 397.51C536.77 396.78 532.95 395.40 530.75 394.38C528.56 393.35 525.20 391.52 523.45 390.20C521.69 388.89 519.40 386.44 518.23 384.98C517.06 383.52 515.68 381.22 515.10 379.76C514.51 378.30 514.39 376.05 514.05 374.54C513.71 373.04 512.73 370.42 512.65 369.03C512.58 367.65 513.14 365.75 513.51 364.65C513.87 363.54 514.40 362.24 515.26 361.14C516.12 360.04 518.42 357.88 519.65 356.78C520.87 355.67 522.19 354.50 524.03 353.27C525.87 352.04 530.33 349.36 532.78 348.01C535.23 346.66 539.09 344.75 541.55 343.65C544.00 342.54 547.84 341.12 550.29 340.14C552.75 339.16 556.61 337.49 559.06 336.63C561.51 335.77 565.36 334.66 567.81 334.00C570.26 333.34 574.37 332.43 576.58 331.89C578.78 331.35 581.83 330.55 583.57 330.16C585.31 329.77 587.21 329.45 589.00 329.09Z" fill="#ffff00" stroke="none"/>
<path d="M589.00 329.09C586.31 329.76 583.17 330.31 580.86 331.12C578.55 331.93 574.85 333.53 572.51 334.88C570.17 336.22 566.35 338.97 564.16 340.72C561.96 342.48 558.60 345.44 556.85 347.40C555.10 349.36 552.71 352.66 551.63 354.71C550.55 356.76 549.56 360.26 549.13 362.02C548.69 363.77 548.34 365.72 548.50 367.24C548.66 368.76 549.43 371.15 550.29 372.87C551.16 374.60 553.21 377.76 554.68 379.55C556.15 381.34 558.73 384.08 560.82 385.67C562.90 387.26 566.90 389.71 569.58 390.93C572.27 392.16 577.30 393.73 580.02 394.42C582.74 395.10 586.52 395.47 589.00 395.84C591.48 396.21 595.31 396.73 597.77 397.05C600.22 397.36 604.09 397.80 606.54 398.09C608.99 398.39 612.81 399.06 615.26 399.16C617.71 399.26 621.58 399.05 624.03 398.80C626.48 398.56 630.33 398.02 632.78 397.40C635.23 396.79 639.34 395.32 641.55 394.42C643.75 393.51 646.83 391.84 648.54 390.93C650.26 390.03 652.33 388.92 653.80 387.95C655.27 386.97 657.96 385.11 659.06 383.94C660.16 382.76 661.21 380.78 661.65 379.55C662.09 378.33 661.89 376.15 662.22 375.17C662.54 374.19 663.66 373.40 663.95 372.54C664.24 371.68 664.99 370.63 664.30 369.03C663.62 367.44 661.02 363.30 659.06 361.14C657.10 358.98 652.75 355.46 650.29 353.62C647.84 351.79 644.00 349.43 641.55 348.03C639.09 346.63 635.23 344.82 632.78 343.65C630.33 342.47 626.48 340.67 624.03 339.62C621.58 338.56 617.71 337.04 615.26 336.13C612.81 335.22 608.99 333.86 606.54 333.12C604.09 332.38 600.22 331.41 597.77 330.85C595.31 330.28 591.89 329.67 589.00 329.09Z" fill="#ffff00" stroke="none"/>
<g clip-path="url(#s6)" fill="none" stroke="#ffffff" stroke-width="1.8" stroke-opacity="0.07"><circle cx="588.90" cy="329.70" r="33.80"/><circle cx="588.90" cy="329.70" r="67.60"/><circle cx="588.90" cy="329.70" r="101.40"/><circle cx="588.90" cy="329.70" r="135.20"/><path d="M622.70 329.70 L888.90 329.70M621.55 338.45 L878.68 407.35M618.17 346.60 L848.71 479.70M612.80 353.60 L801.03 541.83M605.80 358.97 L738.90 589.51M597.65 362.35 L666.55 619.48M588.90 363.50 L588.90 629.70M580.15 362.35 L511.25 619.48M572.00 358.97 L438.90 589.51M565.00 353.60 L376.77 541.83M559.63 346.60 L329.09 479.70M556.25 338.45 L299.12 407.35M555.10 329.70 L288.90 329.70M556.25 320.95 L299.12 252.05M559.63 312.80 L329.09 179.70M565.00 305.80 L376.77 117.57M572.00 300.43 L438.90 69.89M580.15 297.05 L511.25 39.92M588.90 295.90 L588.90 29.70M597.65 297.05 L666.55 39.92M605.80 300.43 L738.90 69.89M612.80 305.80 L801.03 117.57M618.17 312.80 L848.71 179.70M621.55 320.95 L878.68 252.05"/></g>
<path d="M589.00 329.09C591.89 329.56 595.31 330.05 597.77 330.49C600.22 330.93 604.09 331.58 606.54 332.25C608.99 332.91 612.81 334.37 615.26 335.23C617.71 336.09 621.58 337.41 624.03 338.38C626.48 339.36 630.33 341.12 632.78 342.23C635.23 343.33 638.85 344.83 641.55 346.25C644.24 347.68 649.11 350.45 652.05 352.41C654.99 354.37 660.22 358.30 662.55 360.26C664.88 362.22 667.51 364.68 668.69 366.40C669.86 368.12 670.72 370.82 670.96 372.54C671.21 374.25 670.86 377.31 670.42 378.66C669.98 380.00 668.42 381.25 667.81 382.16C667.20 383.07 666.90 384.41 666.04 385.15C665.17 385.88 662.63 386.79 661.65 387.42C660.68 388.06 660.16 389.09 659.06 389.70C657.96 390.31 655.03 391.15 653.80 391.81C652.57 392.47 652.01 393.68 650.29 394.42C648.58 395.15 644.00 396.31 641.55 397.05C639.09 397.78 635.23 399.23 632.78 399.68C630.33 400.12 626.48 400.22 624.03 400.22C621.58 400.22 617.71 399.95 615.26 399.68C612.81 399.41 608.99 398.65 606.54 398.28C604.09 397.91 600.22 397.33 597.77 397.05C595.31 396.76 591.08 396.34 589.00 396.25C586.92 396.17 584.96 396.29 582.95 396.46C580.93 396.64 576.93 397.13 574.59 397.51C572.26 397.89 568.58 398.83 566.24 399.18C563.91 399.53 560.52 399.95 557.89 400.01C555.26 400.07 550.09 399.95 547.46 399.59C544.82 399.24 541.44 398.24 539.10 397.51C536.77 396.78 532.95 395.40 530.75 394.38C528.56 393.35 525.20 391.52 523.45 390.20C521.69 388.89 519.40 386.44 518.23 384.98C517.06 383.52 515.68 381.22 515.10 379.76C514.51 378.30 514.39 376.05 514.05 374.54C513.71 373.04 512.73 370.42 512.65 369.03C512.58 367.65 513.14 365.75 513.51 364.65C513.87 363.54 514.40 362.24 515.26 361.14C516.12 360.04 518.42 357.88 519.65 356.78C520.87 355.67 522.19 354.50 524.03 353.27C525.87 352.04 530.33 349.36 532.78 348.01C535.23 346.66 539.09 344.75 541.55 343.65C544.00 342.54 547.84 341.12 550.29 340.14C552.75 339.16 556.61 337.49 559.06 336.63C561.51 335.77 565.36 334.66 567.81 334.00C570.26 333.34 574.37 332.43 576.58 331.89C578.78 331.35 581.83 330.55 583.57 330.16C585.31 329.77 587.21 329.45 589.00 329.09Z" fill="none" stroke="#96609a" stroke-width="0.90" stroke-linejoin="round"/>
<path d="M589.00 329.09C586.31 329.76 583.17 330.31 580.86 331.12C578.55 331.93 574.85 333.53 572.51 334.88C570.17 336.22 566.35 338.97 564.16 340.72C561.96 342.48 558.60 345.44 556.85 347.40C555.10 349.36 552.71 352.66 551.63 354.71C550.55 356.76 549.56 360.26 549.13 362.02C548.69 363.77 548.34 365.72 548.50 367.24C548.66 368.76 549.43 371.15 550.29 372.87C551.16 374.60 553.21 377.76 554.68 379.55C556.15 381.34 558.73 384.08 560.82 385.67C562.90 387.26 566.90 389.71 569.58 390.93C572.27 392.16 577.30 393.73 580.02 394.42C582.74 395.10 586.52 395.47 589.00 395.84C591.48 396.21 595.31 396.73 597.77 397.05C600.22 397.36 604.09 397.80 606.54 398.09C608.99 398.39 612.81 399.06 615.26 399.16C617.71 399.26 621.58 399.05 624.03 398.80C626.48 398.56 630.33 398.02 632.78 397.40C635.23 396.79 639.34 395.32 641.55 394.42C643.75 393.51 646.83 391.84 648.54 390.93C650.26 390.03 652.33 388.92 653.80 387.95C655.27 386.97 657.96 385.11 659.06 383.94C660.16 382.76 661.21 380.78 661.65 379.55C662.09 378.33 661.89 376.15 662.22 375.17C662.54 374.19 663.66 373.40 663.95 372.54C664.24 371.68 664.99 370.63 664.30 369.03C663.62 367.44 661.02 363.30 659.06 361.14C657.10 358.98 652.75 355.46 650.29 353.62C647.84 351.79 644.00 349.43 641.55 348.03C639.09 346.63 635.23 344.82 632.78 343.65C630.33 342.47 626.48 340.67 624.03 339.62C621.58 338.56 617.71 337.04 615.26 336.13C612.81 335.22 608.99 333.86 606.54 333.12C604.09 332.38 600.22 331.41 597.77 330.85C595.31 330.28 591.89 329.67 589.00 329.09Z" fill="none" stroke="#6e4418" stroke-width="1.00" stroke-linejoin="round"/>
<path d="M586.60 329.59 Q589.00 328.59 591.40 329.59" fill="none" stroke="#2e2622" stroke-width="1.3" stroke-linecap="round"/>
</g>
<rect x="489.40" y="299.70" width="200.10" height="199.80" fill="none" stroke="#6e6e6e" stroke-width="1.1"/>
<text class="t" x="488.00" y="289.70">TYPE IV-S</text>
<text class="n" x="692.50" y="288.00">0260</text>
<clipPath id="c7"><rect x="731.50" y="298.50" width="200.20" height="200.10"/></clipPath>
<g clip-path="url(#c7)">
<g class="g">
<circle cx="831.40" cy="328.50" r="24.10"/><circle cx="831.40" cy="328.50" r="48.20"/><circle cx="831.40" cy="328.50" r="72.30"/><circle cx="831.40" cy="328.50" r="96.40"/><circle cx="831.40" cy="328.50" r="120.50"/><circle cx="831.40" cy="328.50" r="144.60"/><circle cx="831.40" cy="328.50" r="168.70"/><circle cx="831.40" cy="328.50" r="192.80"/><circle cx="831.40" cy="328.50" r="216.90"/><circle cx="831.40" cy="328.50" r="241.00"/>
<path d="M855.50 328.50 L1131.40 328.50M854.68 334.74 L1121.18 406.15M852.27 340.55 L1091.21 478.50M848.44 345.54 L1043.53 540.63M843.45 349.37 L981.40 588.31M837.64 351.78 L909.05 618.28M831.40 352.60 L831.40 628.50M825.16 351.78 L753.75 618.28M819.35 349.37 L681.40 588.31M814.36 345.54 L619.27 540.63M810.53 340.55 L571.59 478.50M808.12 334.74 L541.62 406.15M807.30 328.50 L531.40 328.50M808.12 322.26 L541.62 250.85M810.53 316.45 L571.59 178.50M814.36 311.46 L619.27 116.37M819.35 307.63 L681.40 68.69M825.16 305.22 L753.75 38.72M831.40 304.40 L831.40 28.50M837.64 305.22 L909.05 38.72M843.45 307.63 L981.40 68.69M848.44 311.46 L1043.53 116.37M852.27 316.45 L1091.21 178.50M854.68 322.26 L1121.18 250.85"/>
</g>
<clipPath id="s7"><path d="M831.00 327.45C833.55 328.00 836.53 328.58 838.72 329.12C840.92 329.66 844.47 330.67 846.66 331.31C848.85 331.95 852.22 333.00 854.38 333.71C856.54 334.43 859.93 335.68 862.11 336.43C864.28 337.17 867.74 338.25 869.94 339.06C872.13 339.86 875.59 341.31 877.76 342.17C879.94 343.03 883.33 344.24 885.49 345.19C887.65 346.14 891.02 347.87 893.21 348.95C895.41 350.03 898.95 351.72 901.15 352.92C903.34 354.12 906.71 356.14 908.87 357.51C911.03 358.89 914.58 361.24 916.59 362.73C918.61 364.22 921.70 366.76 923.28 368.16C924.85 369.56 926.87 371.49 927.87 372.75C928.86 374.01 930.08 375.76 930.37 377.14C930.67 378.51 930.45 381.31 929.96 382.56C929.46 383.82 928.02 385.35 926.82 386.11C925.63 386.87 923.03 387.64 921.40 387.99C919.76 388.34 916.89 388.56 915.13 388.62C913.38 388.68 910.83 388.58 908.87 388.41C906.91 388.23 903.34 387.72 901.15 387.37C898.95 387.01 895.41 386.37 893.21 385.90C891.02 385.44 887.65 384.55 885.49 384.03C883.33 383.50 879.52 382.53 877.76 382.15C876.01 381.77 874.22 381.49 872.96 381.31C871.71 381.14 869.96 381.19 868.79 380.89C867.62 380.60 865.55 379.78 864.61 379.22C863.68 378.67 863.10 377.51 862.11 376.93C861.11 376.34 858.81 375.43 857.51 375.05C856.21 374.67 853.91 374.26 852.82 374.21C851.72 374.17 850.56 374.52 849.68 374.73C848.81 374.95 847.45 375.69 846.57 375.78C845.70 375.87 844.33 375.51 843.46 375.36C842.59 375.22 841.23 374.90 840.35 374.73C839.48 374.57 838.09 374.26 837.22 374.21C836.35 374.17 835.00 374.47 834.13 374.42C833.26 374.38 831.91 373.86 831.00 373.90C830.09 373.94 828.57 374.57 827.66 374.73C826.74 374.90 825.37 375.11 824.47 375.05C823.56 374.99 822.06 374.43 821.19 374.32C820.31 374.20 819.10 374.18 818.22 374.21C817.35 374.24 815.80 374.63 814.92 374.53C814.05 374.42 813.07 373.67 812.00 373.48C810.94 373.29 808.64 372.95 807.33 373.17C806.01 373.39 803.91 374.52 802.61 375.05C801.30 375.57 799.32 376.49 798.01 376.93C796.71 377.37 795.05 377.67 793.30 378.18C791.54 378.69 787.66 379.92 785.49 380.58C783.31 381.24 779.94 382.29 777.76 382.88C775.59 383.46 772.13 384.26 769.94 384.76C767.74 385.25 764.11 386.00 762.11 386.43C760.10 386.85 757.21 387.42 755.63 387.78C754.06 388.15 752.18 388.80 750.83 389.04C749.49 389.27 747.41 389.54 746.03 389.45C744.66 389.37 742.25 388.94 741.02 388.41C739.79 387.88 737.96 386.57 737.26 385.70C736.56 384.82 736.10 383.40 736.01 382.15C735.92 380.89 736.29 378.15 736.64 376.72C736.99 375.29 737.55 373.23 738.52 371.92C739.48 370.60 741.95 368.73 743.53 367.32C745.10 365.92 748.04 363.39 749.79 361.90C751.54 360.41 754.24 358.17 756.05 356.68C757.86 355.19 760.75 352.56 762.73 351.25C764.72 349.93 768.11 348.29 770.25 347.28C772.38 346.27 775.81 344.88 777.97 344.05C780.14 343.21 783.52 342.08 785.70 341.33C787.87 340.59 791.34 339.41 793.53 338.72C795.71 338.04 799.11 337.07 801.29 336.43C803.47 335.78 806.91 334.76 809.08 334.13C811.25 333.50 814.64 332.54 816.80 331.94C818.97 331.34 822.54 330.48 824.53 329.85C826.52 329.22 828.86 328.24 831.00 327.45Z"/><path d="M831.00 327.45C833.55 328.07 836.53 328.74 838.72 329.33C840.92 329.91 844.47 330.97 846.66 331.62C848.85 332.28 852.22 333.29 854.38 334.03C856.54 334.76 859.93 336.08 862.11 336.84C864.28 337.61 867.74 338.67 869.94 339.47C872.13 340.28 875.59 341.71 877.76 342.58C879.94 343.46 883.33 344.72 885.49 345.70C887.65 346.67 891.02 348.49 893.21 349.58C895.41 350.67 898.95 352.28 901.15 353.48C903.34 354.68 906.71 356.73 908.87 358.14C911.03 359.55 914.64 362.05 916.59 363.57C918.55 365.09 921.43 367.56 922.86 368.99C924.29 370.43 925.99 372.48 926.82 373.80C927.66 375.11 928.62 377.09 928.83 378.39C929.03 379.69 928.68 381.99 928.29 383.09C927.89 384.18 926.95 385.54 925.99 386.20C925.03 386.85 922.92 387.50 921.40 387.78C919.88 388.06 916.89 388.20 915.13 388.20C913.38 388.20 910.83 388.00 908.87 387.78C906.91 387.57 903.34 387.04 901.15 386.66C898.95 386.28 895.41 385.57 893.21 385.07C891.02 384.57 887.65 383.64 885.49 383.09C883.33 382.53 879.72 381.54 877.76 381.10C875.81 380.67 873.03 380.35 871.50 379.97C869.97 379.59 868.14 378.89 866.82 378.39C865.51 377.89 863.41 376.93 862.11 376.38C860.80 375.84 858.81 374.88 857.51 374.51C856.21 374.13 853.91 373.77 852.82 373.73C851.72 373.69 850.56 374.00 849.68 374.21C848.81 374.43 847.45 375.17 846.57 375.26C845.70 375.34 844.33 374.99 843.46 374.84C842.59 374.69 841.23 374.37 840.35 374.21C839.48 374.06 838.09 373.78 837.22 373.73C836.35 373.69 835.00 373.95 834.13 373.90C833.26 373.85 831.91 373.33 831.00 373.38C830.09 373.42 828.57 374.06 827.66 374.21C826.74 374.37 825.37 374.56 824.47 374.51C823.56 374.45 822.06 373.90 821.19 373.80C820.31 373.69 819.10 373.70 818.22 373.73C817.35 373.76 815.80 374.11 814.92 374.00C814.05 373.90 813.07 373.15 812.00 372.96C810.94 372.77 808.64 372.43 807.33 372.65C806.01 372.86 803.91 373.98 802.61 374.51C801.30 375.03 799.32 375.95 798.01 376.38C796.71 376.82 795.05 377.13 793.30 377.64C791.54 378.14 787.66 379.32 785.49 379.97C783.31 380.63 779.94 381.70 777.76 382.29C775.59 382.88 772.13 383.69 769.94 384.17C767.74 384.65 764.28 385.35 762.11 385.74C759.93 386.13 756.56 386.73 754.38 386.95C752.21 387.16 748.54 387.39 746.57 387.28C744.61 387.18 741.88 386.68 740.35 386.20C738.83 385.72 736.66 384.51 735.68 383.86C734.69 383.20 733.77 382.17 733.34 381.52C732.90 380.87 732.57 380.16 732.57 379.18C732.57 378.20 732.69 375.81 733.34 374.51C733.99 373.20 735.37 371.56 737.22 369.83C739.07 368.09 744.17 364.06 746.57 362.10C748.98 360.15 752.20 357.45 754.38 355.84C756.56 354.23 759.97 351.91 762.15 350.62C764.33 349.34 767.75 347.65 769.94 346.66C772.12 345.66 775.54 344.34 777.72 343.52C779.90 342.71 783.31 341.54 785.49 340.81C787.67 340.08 791.11 338.98 793.30 338.30C795.48 337.63 798.90 336.64 801.08 336.01C803.26 335.38 806.69 334.43 808.87 333.82C811.05 333.20 814.50 332.22 816.68 331.62C818.86 331.03 822.46 330.12 824.47 329.54C826.47 328.95 828.84 328.14 831.00 327.45Z"/></clipPath>
<path d="M831.00 327.45C833.55 328.00 836.53 328.58 838.72 329.12C840.92 329.66 844.47 330.67 846.66 331.31C848.85 331.95 852.22 333.00 854.38 333.71C856.54 334.43 859.93 335.68 862.11 336.43C864.28 337.17 867.74 338.25 869.94 339.06C872.13 339.86 875.59 341.31 877.76 342.17C879.94 343.03 883.33 344.24 885.49 345.19C887.65 346.14 891.02 347.87 893.21 348.95C895.41 350.03 898.95 351.72 901.15 352.92C903.34 354.12 906.71 356.14 908.87 357.51C911.03 358.89 914.58 361.24 916.59 362.73C918.61 364.22 921.70 366.76 923.28 368.16C924.85 369.56 926.87 371.49 927.87 372.75C928.86 374.01 930.08 375.76 930.37 377.14C930.67 378.51 930.45 381.31 929.96 382.56C929.46 383.82 928.02 385.35 926.82 386.11C925.63 386.87 923.03 387.64 921.40 387.99C919.76 388.34 916.89 388.56 915.13 388.62C913.38 388.68 910.83 388.58 908.87 388.41C906.91 388.23 903.34 387.72 901.15 387.37C898.95 387.01 895.41 386.37 893.21 385.90C891.02 385.44 887.65 384.55 885.49 384.03C883.33 383.50 879.52 382.53 877.76 382.15C876.01 381.77 874.22 381.49 872.96 381.31C871.71 381.14 869.96 381.19 868.79 380.89C867.62 380.60 865.55 379.78 864.61 379.22C863.68 378.67 863.10 377.51 862.11 376.93C861.11 376.34 858.81 375.43 857.51 375.05C856.21 374.67 853.91 374.26 852.82 374.21C851.72 374.17 850.56 374.52 849.68 374.73C848.81 374.95 847.45 375.69 846.57 375.78C845.70 375.87 844.33 375.51 843.46 375.36C842.59 375.22 841.23 374.90 840.35 374.73C839.48 374.57 838.09 374.26 837.22 374.21C836.35 374.17 835.00 374.47 834.13 374.42C833.26 374.38 831.91 373.86 831.00 373.90C830.09 373.94 828.57 374.57 827.66 374.73C826.74 374.90 825.37 375.11 824.47 375.05C823.56 374.99 822.06 374.43 821.19 374.32C820.31 374.20 819.10 374.18 818.22 374.21C817.35 374.24 815.80 374.63 814.92 374.53C814.05 374.42 813.07 373.67 812.00 373.48C810.94 373.29 808.64 372.95 807.33 373.17C806.01 373.39 803.91 374.52 802.61 375.05C801.30 375.57 799.32 376.49 798.01 376.93C796.71 377.37 795.05 377.67 793.30 378.18C791.54 378.69 787.66 379.92 785.49 380.58C783.31 381.24 779.94 382.29 777.76 382.88C775.59 383.46 772.13 384.26 769.94 384.76C767.74 385.25 764.11 386.00 762.11 386.43C760.10 386.85 757.21 387.42 755.63 387.78C754.06 388.15 752.18 388.80 750.83 389.04C749.49 389.27 747.41 389.54 746.03 389.45C744.66 389.37 742.25 388.94 741.02 388.41C739.79 387.88 737.96 386.57 737.26 385.70C736.56 384.82 736.10 383.40 736.01 382.15C735.92 380.89 736.29 378.15 736.64 376.72C736.99 375.29 737.55 373.23 738.52 371.92C739.48 370.60 741.95 368.73 743.53 367.32C745.10 365.92 748.04 363.39 749.79 361.90C751.54 360.41 754.24 358.17 756.05 356.68C757.86 355.19 760.75 352.56 762.73 351.25C764.72 349.93 768.11 348.29 770.25 347.28C772.38 346.27 775.81 344.88 777.97 344.05C780.14 343.21 783.52 342.08 785.70 341.33C787.87 340.59 791.34 339.41 793.53 338.72C795.71 338.04 799.11 337.07 801.29 336.43C803.47 335.78 806.91 334.76 809.08 334.13C811.25 333.50 814.64 332.54 816.80 331.94C818.97 331.34 822.54 330.48 824.53 329.85C826.52 329.22 828.86 328.24 831.00 327.45Z" fill="#ffff00" stroke="none"/>
<path d="M831.00 327.45C833.55 328.07 836.53 328.74 838.72 329.33C840.92 329.91 844.47 330.97 846.66 331.62C848.85 332.28 852.22 333.29 854.38 334.03C856.54 334.76 859.93 336.08 862.11 336.84C864.28 337.61 867.74 338.67 869.94 339.47C872.13 340.28 875.59 341.71 877.76 342.58C879.94 343.46 883.33 344.72 885.49 345.70C887.65 346.67 891.02 348.49 893.21 349.58C895.41 350.67 898.95 352.28 901.15 353.48C903.34 354.68 906.71 356.73 908.87 358.14C911.03 359.55 914.64 362.05 916.59 363.57C918.55 365.09 921.43 367.56 922.86 368.99C924.29 370.43 925.99 372.48 926.82 373.80C927.66 375.11 928.62 377.09 928.83 378.39C929.03 379.69 928.68 381.99 928.29 383.09C927.89 384.18 926.95 385.54 925.99 386.20C925.03 386.85 922.92 387.50 921.40 387.78C919.88 388.06 916.89 388.20 915.13 388.20C913.38 388.20 910.83 388.00 908.87 387.78C906.91 387.57 903.34 387.04 901.15 386.66C898.95 386.28 895.41 385.57 893.21 385.07C891.02 384.57 887.65 383.64 885.49 383.09C883.33 382.53 879.72 381.54 877.76 381.10C875.81 380.67 873.03 380.35 871.50 379.97C869.97 379.59 868.14 378.89 866.82 378.39C865.51 377.89 863.41 376.93 862.11 376.38C860.80 375.84 858.81 374.88 857.51 374.51C856.21 374.13 853.91 373.77 852.82 373.73C851.72 373.69 850.56 374.00 849.68 374.21C848.81 374.43 847.45 375.17 846.57 375.26C845.70 375.34 844.33 374.99 843.46 374.84C842.59 374.69 841.23 374.37 840.35 374.21C839.48 374.06 838.09 373.78 837.22 373.73C836.35 373.69 835.00 373.95 834.13 373.90C833.26 373.85 831.91 373.33 831.00 373.38C830.09 373.42 828.57 374.06 827.66 374.21C826.74 374.37 825.37 374.56 824.47 374.51C823.56 374.45 822.06 373.90 821.19 373.80C820.31 373.69 819.10 373.70 818.22 373.73C817.35 373.76 815.80 374.11 814.92 374.00C814.05 373.90 813.07 373.15 812.00 372.96C810.94 372.77 808.64 372.43 807.33 372.65C806.01 372.86 803.91 373.98 802.61 374.51C801.30 375.03 799.32 375.95 798.01 376.38C796.71 376.82 795.05 377.13 793.30 377.64C791.54 378.14 787.66 379.32 785.49 379.97C783.31 380.63 779.94 381.70 777.76 382.29C775.59 382.88 772.13 383.69 769.94 384.17C767.74 384.65 764.28 385.35 762.11 385.74C759.93 386.13 756.56 386.73 754.38 386.95C752.21 387.16 748.54 387.39 746.57 387.28C744.61 387.18 741.88 386.68 740.35 386.20C738.83 385.72 736.66 384.51 735.68 383.86C734.69 383.20 733.77 382.17 733.34 381.52C732.90 380.87 732.57 380.16 732.57 379.18C732.57 378.20 732.69 375.81 733.34 374.51C733.99 373.20 735.37 371.56 737.22 369.83C739.07 368.09 744.17 364.06 746.57 362.10C748.98 360.15 752.20 357.45 754.38 355.84C756.56 354.23 759.97 351.91 762.15 350.62C764.33 349.34 767.75 347.65 769.94 346.66C772.12 345.66 775.54 344.34 777.72 343.52C779.90 342.71 783.31 341.54 785.49 340.81C787.67 340.08 791.11 338.98 793.30 338.30C795.48 337.63 798.90 336.64 801.08 336.01C803.26 335.38 806.69 334.43 808.87 333.82C811.05 333.20 814.50 332.22 816.68 331.62C818.86 331.03 822.46 330.12 824.47 329.54C826.47 328.95 828.84 328.14 831.00 327.45Z" fill="#ffff00" stroke="none"/>
<g clip-path="url(#s7)" fill="none" stroke="#ffffff" stroke-width="1.8" stroke-opacity="0.07"><circle cx="831.40" cy="328.50" r="24.10"/><circle cx="831.40" cy="328.50" r="48.20"/><circle cx="831.40" cy="328.50" r="72.30"/><circle cx="831.40" cy="328.50" r="96.40"/><circle cx="831.40" cy="328.50" r="120.50"/><circle cx="831.40" cy="328.50" r="144.60"/><path d="M855.50 328.50 L1131.40 328.50M854.68 334.74 L1121.18 406.15M852.27 340.55 L1091.21 478.50M848.44 345.54 L1043.53 540.63M843.45 349.37 L981.40 588.31M837.64 351.78 L909.05 618.28M831.40 352.60 L831.40 628.50M825.16 351.78 L753.75 618.28M819.35 349.37 L681.40 588.31M814.36 345.54 L619.27 540.63M810.53 340.55 L571.59 478.50M808.12 334.74 L541.62 406.15M807.30 328.50 L531.40 328.50M808.12 322.26 L541.62 250.85M810.53 316.45 L571.59 178.50M814.36 311.46 L619.27 116.37M819.35 307.63 L681.40 68.69M825.16 305.22 L753.75 38.72M831.40 304.40 L831.40 28.50M837.64 305.22 L909.05 38.72M843.45 307.63 L981.40 68.69M848.44 311.46 L1043.53 116.37M852.27 316.45 L1091.21 178.50M854.68 322.26 L1121.18 250.85"/></g>
<path d="M831.00 327.45C833.55 328.00 836.53 328.58 838.72 329.12C840.92 329.66 844.47 330.67 846.66 331.31C848.85 331.95 852.22 333.00 854.38 333.71C856.54 334.43 859.93 335.68 862.11 336.43C864.28 337.17 867.74 338.25 869.94 339.06C872.13 339.86 875.59 341.31 877.76 342.17C879.94 343.03 883.33 344.24 885.49 345.19C887.65 346.14 891.02 347.87 893.21 348.95C895.41 350.03 898.95 351.72 901.15 352.92C903.34 354.12 906.71 356.14 908.87 357.51C911.03 358.89 914.58 361.24 916.59 362.73C918.61 364.22 921.70 366.76 923.28 368.16C924.85 369.56 926.87 371.49 927.87 372.75C928.86 374.01 930.08 375.76 930.37 377.14C930.67 378.51 930.45 381.31 929.96 382.56C929.46 383.82 928.02 385.35 926.82 386.11C925.63 386.87 923.03 387.64 921.40 387.99C919.76 388.34 916.89 388.56 915.13 388.62C913.38 388.68 910.83 388.58 908.87 388.41C906.91 388.23 903.34 387.72 901.15 387.37C898.95 387.01 895.41 386.37 893.21 385.90C891.02 385.44 887.65 384.55 885.49 384.03C883.33 383.50 879.52 382.53 877.76 382.15C876.01 381.77 874.22 381.49 872.96 381.31C871.71 381.14 869.96 381.19 868.79 380.89C867.62 380.60 865.55 379.78 864.61 379.22C863.68 378.67 863.10 377.51 862.11 376.93C861.11 376.34 858.81 375.43 857.51 375.05C856.21 374.67 853.91 374.26 852.82 374.21C851.72 374.17 850.56 374.52 849.68 374.73C848.81 374.95 847.45 375.69 846.57 375.78C845.70 375.87 844.33 375.51 843.46 375.36C842.59 375.22 841.23 374.90 840.35 374.73C839.48 374.57 838.09 374.26 837.22 374.21C836.35 374.17 835.00 374.47 834.13 374.42C833.26 374.38 831.91 373.86 831.00 373.90C830.09 373.94 828.57 374.57 827.66 374.73C826.74 374.90 825.37 375.11 824.47 375.05C823.56 374.99 822.06 374.43 821.19 374.32C820.31 374.20 819.10 374.18 818.22 374.21C817.35 374.24 815.80 374.63 814.92 374.53C814.05 374.42 813.07 373.67 812.00 373.48C810.94 373.29 808.64 372.95 807.33 373.17C806.01 373.39 803.91 374.52 802.61 375.05C801.30 375.57 799.32 376.49 798.01 376.93C796.71 377.37 795.05 377.67 793.30 378.18C791.54 378.69 787.66 379.92 785.49 380.58C783.31 381.24 779.94 382.29 777.76 382.88C775.59 383.46 772.13 384.26 769.94 384.76C767.74 385.25 764.11 386.00 762.11 386.43C760.10 386.85 757.21 387.42 755.63 387.78C754.06 388.15 752.18 388.80 750.83 389.04C749.49 389.27 747.41 389.54 746.03 389.45C744.66 389.37 742.25 388.94 741.02 388.41C739.79 387.88 737.96 386.57 737.26 385.70C736.56 384.82 736.10 383.40 736.01 382.15C735.92 380.89 736.29 378.15 736.64 376.72C736.99 375.29 737.55 373.23 738.52 371.92C739.48 370.60 741.95 368.73 743.53 367.32C745.10 365.92 748.04 363.39 749.79 361.90C751.54 360.41 754.24 358.17 756.05 356.68C757.86 355.19 760.75 352.56 762.73 351.25C764.72 349.93 768.11 348.29 770.25 347.28C772.38 346.27 775.81 344.88 777.97 344.05C780.14 343.21 783.52 342.08 785.70 341.33C787.87 340.59 791.34 339.41 793.53 338.72C795.71 338.04 799.11 337.07 801.29 336.43C803.47 335.78 806.91 334.76 809.08 334.13C811.25 333.50 814.64 332.54 816.80 331.94C818.97 331.34 822.54 330.48 824.53 329.85C826.52 329.22 828.86 328.24 831.00 327.45Z" fill="none" stroke="#d09a2c" stroke-width="1.00" stroke-linejoin="round"/>
<path d="M831.00 327.45C833.55 328.07 836.53 328.74 838.72 329.33C840.92 329.91 844.47 330.97 846.66 331.62C848.85 332.28 852.22 333.29 854.38 334.03C856.54 334.76 859.93 336.08 862.11 336.84C864.28 337.61 867.74 338.67 869.94 339.47C872.13 340.28 875.59 341.71 877.76 342.58C879.94 343.46 883.33 344.72 885.49 345.70C887.65 346.67 891.02 348.49 893.21 349.58C895.41 350.67 898.95 352.28 901.15 353.48C903.34 354.68 906.71 356.73 908.87 358.14C911.03 359.55 914.64 362.05 916.59 363.57C918.55 365.09 921.43 367.56 922.86 368.99C924.29 370.43 925.99 372.48 926.82 373.80C927.66 375.11 928.62 377.09 928.83 378.39C929.03 379.69 928.68 381.99 928.29 383.09C927.89 384.18 926.95 385.54 925.99 386.20C925.03 386.85 922.92 387.50 921.40 387.78C919.88 388.06 916.89 388.20 915.13 388.20C913.38 388.20 910.83 388.00 908.87 387.78C906.91 387.57 903.34 387.04 901.15 386.66C898.95 386.28 895.41 385.57 893.21 385.07C891.02 384.57 887.65 383.64 885.49 383.09C883.33 382.53 879.72 381.54 877.76 381.10C875.81 380.67 873.03 380.35 871.50 379.97C869.97 379.59 868.14 378.89 866.82 378.39C865.51 377.89 863.41 376.93 862.11 376.38C860.80 375.84 858.81 374.88 857.51 374.51C856.21 374.13 853.91 373.77 852.82 373.73C851.72 373.69 850.56 374.00 849.68 374.21C848.81 374.43 847.45 375.17 846.57 375.26C845.70 375.34 844.33 374.99 843.46 374.84C842.59 374.69 841.23 374.37 840.35 374.21C839.48 374.06 838.09 373.78 837.22 373.73C836.35 373.69 835.00 373.95 834.13 373.90C833.26 373.85 831.91 373.33 831.00 373.38C830.09 373.42 828.57 374.06 827.66 374.21C826.74 374.37 825.37 374.56 824.47 374.51C823.56 374.45 822.06 373.90 821.19 373.80C820.31 373.69 819.10 373.70 818.22 373.73C817.35 373.76 815.80 374.11 814.92 374.00C814.05 373.90 813.07 373.15 812.00 372.96C810.94 372.77 808.64 372.43 807.33 372.65C806.01 372.86 803.91 373.98 802.61 374.51C801.30 375.03 799.32 375.95 798.01 376.38C796.71 376.82 795.05 377.13 793.30 377.64C791.54 378.14 787.66 379.32 785.49 379.97C783.31 380.63 779.94 381.70 777.76 382.29C775.59 382.88 772.13 383.69 769.94 384.17C767.74 384.65 764.28 385.35 762.11 385.74C759.93 386.13 756.56 386.73 754.38 386.95C752.21 387.16 748.54 387.39 746.57 387.28C744.61 387.18 741.88 386.68 740.35 386.20C738.83 385.72 736.66 384.51 735.68 383.86C734.69 383.20 733.77 382.17 733.34 381.52C732.90 380.87 732.57 380.16 732.57 379.18C732.57 378.20 732.69 375.81 733.34 374.51C733.99 373.20 735.37 371.56 737.22 369.83C739.07 368.09 744.17 364.06 746.57 362.10C748.98 360.15 752.20 357.45 754.38 355.84C756.56 354.23 759.97 351.91 762.15 350.62C764.33 349.34 767.75 347.65 769.94 346.66C772.12 345.66 775.54 344.34 777.72 343.52C779.90 342.71 783.31 341.54 785.49 340.81C787.67 340.08 791.11 338.98 793.30 338.30C795.48 337.63 798.90 336.64 801.08 336.01C803.26 335.38 806.69 334.43 808.87 333.82C811.05 333.20 814.50 332.22 816.68 331.62C818.86 331.03 822.46 330.12 824.47 329.54C826.47 328.95 828.84 328.14 831.00 327.45Z" fill="none" stroke="#50386a" stroke-width="0.90" stroke-linejoin="round"/>
<path d="M828.60 327.95 Q831.00 326.95 833.40 327.95" fill="none" stroke="#2e2622" stroke-width="1.3" stroke-linecap="round"/>
</g>
<rect x="731.50" y="298.50" width="200.20" height="200.10" fill="none" stroke="#6e6e6e" stroke-width="1.1"/>
<text class="t" x="730.20" y="289.10">TYPE V</text>
</svg>
</body></html>
